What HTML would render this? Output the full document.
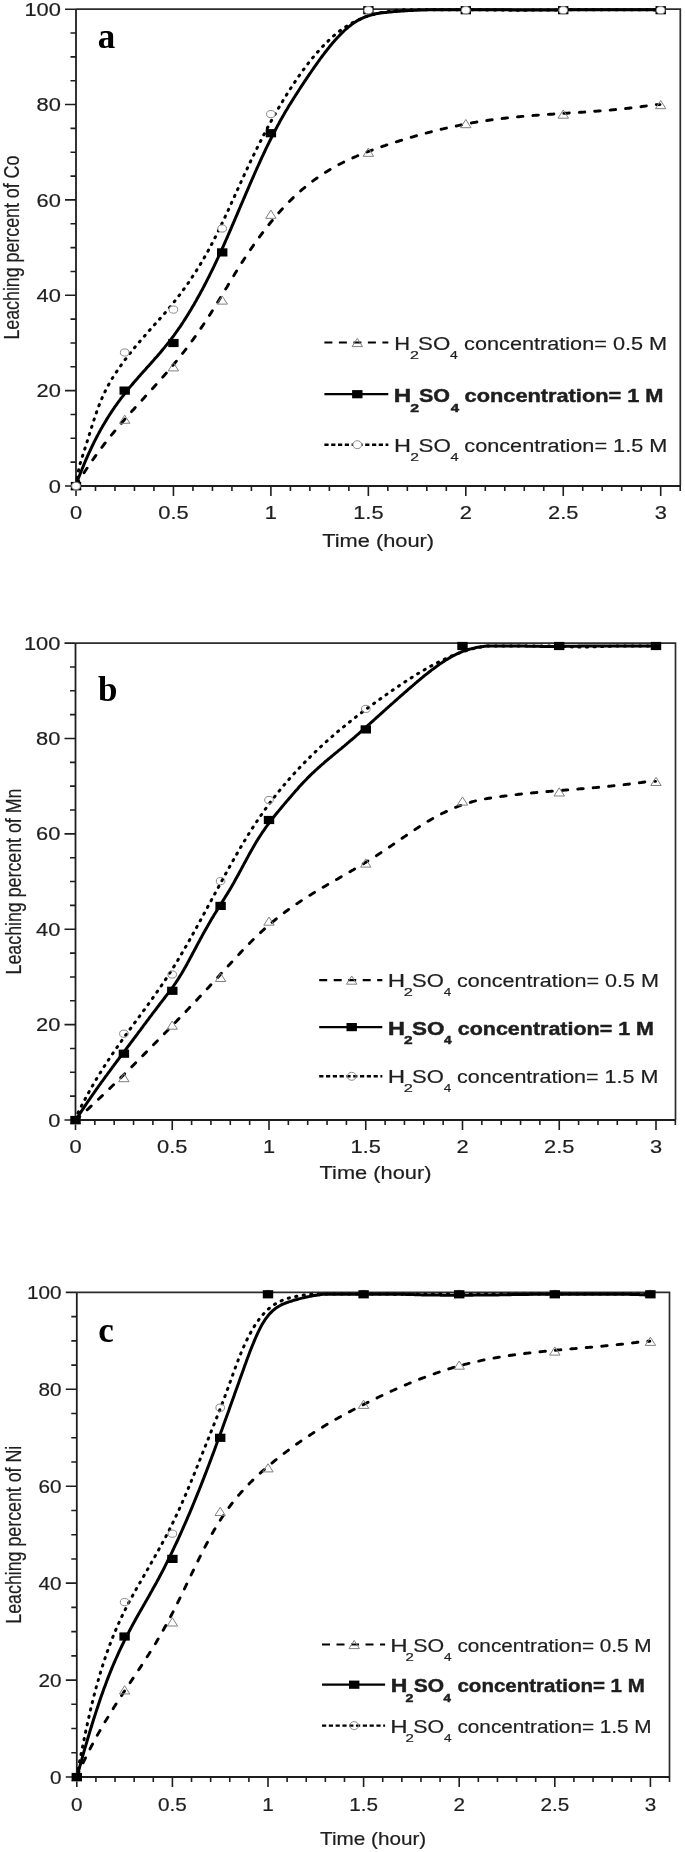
<!DOCTYPE html><html><head><meta charset="utf-8"><style>html,body{margin:0;padding:0;background:#fff;}svg{display:block;filter:blur(0.35px);}</style></head><body>
<svg width="685" height="1852" viewBox="0 0 685 1852">
<rect width="685" height="1852" fill="#fff"/>
<path d="M76.0 9.2 H680.3 V486.0" fill="none" stroke="#2c2c2c" stroke-width="1.7"/>
<path d="M76.0 9.2 V486.0 H680.3" fill="none" stroke="#1e1e1e" stroke-width="1.8"/>
<path d="M65.0 486.00 H76.0 M70.5 462.16 H76.0 M70.5 438.32 H76.0 M70.5 414.48 H76.0 M65.0 390.64 H76.0 M70.5 366.80 H76.0 M70.5 342.96 H76.0 M70.5 319.12 H76.0 M65.0 295.28 H76.0 M70.5 271.44 H76.0 M70.5 247.60 H76.0 M70.5 223.76 H76.0 M65.0 199.92 H76.0 M70.5 176.08 H76.0 M70.5 152.24 H76.0 M70.5 128.40 H76.0 M65.0 104.56 H76.0 M70.5 80.72 H76.0 M70.5 56.88 H76.0 M70.5 33.04 H76.0 M65.0 9.20 H76.0 M76.00 486.0 V496.0 M95.49 486.0 V491.0 M114.98 486.0 V491.0 M134.47 486.0 V491.0 M153.96 486.0 V491.0 M173.45 486.0 V496.0 M192.94 486.0 V491.0 M212.43 486.0 V491.0 M231.92 486.0 V491.0 M251.41 486.0 V491.0 M270.90 486.0 V496.0 M290.39 486.0 V491.0 M309.88 486.0 V491.0 M329.37 486.0 V491.0 M348.86 486.0 V491.0 M368.35 486.0 V496.0 M387.84 486.0 V491.0 M407.33 486.0 V491.0 M426.82 486.0 V491.0 M446.31 486.0 V491.0 M465.80 486.0 V496.0 M485.29 486.0 V491.0 M504.78 486.0 V491.0 M524.27 486.0 V491.0 M543.76 486.0 V491.0 M563.25 486.0 V496.0 M582.74 486.0 V491.0 M602.23 486.0 V491.0 M621.72 486.0 V491.0 M641.21 486.0 V491.0 M660.70 486.0 V496.0 M680.19 486.0 V491.0" fill="none" stroke="#1e1e1e" stroke-width="1.6"/>
<text transform="translate(60.80,492.60) scale(1.18,1)" font-family="Liberation Sans" font-size="18.5" font-weight="normal" text-anchor="end" fill="#1e1e1e" stroke="#1e1e1e" stroke-width="0.2">0</text>
<text transform="translate(60.80,397.24) scale(1.18,1)" font-family="Liberation Sans" font-size="18.5" font-weight="normal" text-anchor="end" fill="#1e1e1e" stroke="#1e1e1e" stroke-width="0.2">20</text>
<text transform="translate(60.80,301.88) scale(1.18,1)" font-family="Liberation Sans" font-size="18.5" font-weight="normal" text-anchor="end" fill="#1e1e1e" stroke="#1e1e1e" stroke-width="0.2">40</text>
<text transform="translate(60.80,206.52) scale(1.18,1)" font-family="Liberation Sans" font-size="18.5" font-weight="normal" text-anchor="end" fill="#1e1e1e" stroke="#1e1e1e" stroke-width="0.2">60</text>
<text transform="translate(60.80,111.16) scale(1.18,1)" font-family="Liberation Sans" font-size="18.5" font-weight="normal" text-anchor="end" fill="#1e1e1e" stroke="#1e1e1e" stroke-width="0.2">80</text>
<text transform="translate(60.80,15.80) scale(1.18,1)" font-family="Liberation Sans" font-size="18.5" font-weight="normal" text-anchor="end" fill="#1e1e1e" stroke="#1e1e1e" stroke-width="0.2">100</text>
<text transform="translate(76.00,519.20) scale(1.18,1)" font-family="Liberation Sans" font-size="18.5" font-weight="normal" text-anchor="middle" fill="#1e1e1e" stroke="#1e1e1e" stroke-width="0.2">0</text>
<text transform="translate(173.45,519.20) scale(1.18,1)" font-family="Liberation Sans" font-size="18.5" font-weight="normal" text-anchor="middle" fill="#1e1e1e" stroke="#1e1e1e" stroke-width="0.2">0.5</text>
<text transform="translate(270.90,519.20) scale(1.18,1)" font-family="Liberation Sans" font-size="18.5" font-weight="normal" text-anchor="middle" fill="#1e1e1e" stroke="#1e1e1e" stroke-width="0.2">1</text>
<text transform="translate(368.35,519.20) scale(1.18,1)" font-family="Liberation Sans" font-size="18.5" font-weight="normal" text-anchor="middle" fill="#1e1e1e" stroke="#1e1e1e" stroke-width="0.2">1.5</text>
<text transform="translate(465.80,519.20) scale(1.18,1)" font-family="Liberation Sans" font-size="18.5" font-weight="normal" text-anchor="middle" fill="#1e1e1e" stroke="#1e1e1e" stroke-width="0.2">2</text>
<text transform="translate(563.25,519.20) scale(1.18,1)" font-family="Liberation Sans" font-size="18.5" font-weight="normal" text-anchor="middle" fill="#1e1e1e" stroke="#1e1e1e" stroke-width="0.2">2.5</text>
<text transform="translate(660.70,519.20) scale(1.18,1)" font-family="Liberation Sans" font-size="18.5" font-weight="normal" text-anchor="middle" fill="#1e1e1e" stroke="#1e1e1e" stroke-width="0.2">3</text>
<text transform="translate(378.15,547.30) scale(1.18,1)" font-family="Liberation Sans" font-size="18.5" font-weight="normal" text-anchor="middle" fill="#1e1e1e" stroke="#1e1e1e" stroke-width="0.2">Time (hour)</text>
<text transform="translate(19.4,247.6) scale(1.19,1) rotate(-90)" font-family="Liberation Sans" font-size="17.8" text-anchor="middle" fill="#1e1e1e" stroke="#1e1e1e" stroke-width="0.2">Leaching percent of Co</text>
<text x="97.8" y="47.8" font-family="Liberation Serif" font-weight="bold" font-size="35" fill="#000">a</text>
<path d="M76.0 486.0 L77.0 484.1 L78.0 482.4 L79.0 480.8 L80.0 479.2 L81.0 477.6 L82.0 476.0 L83.0 474.4 L84.0 472.9 L85.0 471.3 L86.0 469.8 L87.0 468.3 L88.0 466.8 L89.0 465.3 L90.0 463.8 L91.0 462.4 L92.0 460.9 L93.0 459.5 L94.0 458.1 L95.0 456.7 L96.0 455.3 L97.0 453.9 L98.0 452.5 L99.0 451.1 L100.0 449.8 L101.0 448.5 L102.0 447.1 L103.0 445.8 L104.0 444.5 L105.0 443.2 L106.0 441.9 L107.0 440.7 L108.0 439.4 L109.0 438.1 L110.0 436.9 L111.0 435.6 L112.0 434.4 L113.0 433.2 L114.0 432.0 L115.0 430.8 L116.0 429.6 L117.0 428.4 L118.0 427.2 L119.0 426.0 L120.0 424.8 L121.0 423.7 L122.0 422.5 L123.0 421.3 L124.0 420.2 L125.0 419.0 L126.0 417.9 L127.0 416.8 L128.0 415.6 L129.0 414.5 L130.0 413.4 L131.0 412.2 L132.0 411.1 L133.0 410.0 L134.0 408.9 L135.0 407.8 L136.0 406.7 L137.0 405.6 L138.0 404.5 L139.0 403.4 L140.0 402.3 L141.0 401.2 L142.0 400.1 L143.0 399.0 L144.0 397.9 L145.0 396.8 L146.0 395.7 L147.0 394.6 L148.0 393.5 L149.0 392.4 L150.0 391.3 L151.0 390.2 L152.0 389.1 L153.0 388.0 L154.0 386.9 L155.0 385.8 L156.0 384.7 L157.0 383.6 L158.0 382.4 L159.0 381.3 L160.0 380.2 L161.0 379.1 L162.0 377.9 L163.0 376.8 L164.0 375.7 L165.0 374.5 L166.0 373.4 L167.0 372.2 L168.0 371.1 L169.0 369.9 L170.0 368.7 L171.0 367.5 L172.0 366.4 L173.0 365.2 L174.0 364.0 L175.0 362.8 L176.0 361.6 L177.0 360.3 L178.0 359.1 L179.0 357.9 L180.0 356.6 L181.0 355.4 L182.0 354.1 L183.0 352.8 L184.0 351.6 L185.0 350.3 L186.0 349.0 L187.0 347.7 L188.0 346.3 L189.0 345.0 L190.0 343.7 L191.0 342.3 L192.0 340.9 L193.0 339.6 L194.0 338.2 L195.0 336.8 L196.0 335.4 L197.0 333.9 L198.0 332.5 L199.0 331.1 L200.0 329.6 L201.0 328.1 L202.0 326.7 L203.0 325.2 L204.0 323.7 L205.0 322.2 L206.0 320.7 L207.0 319.1 L208.0 317.6 L209.0 316.0 L210.0 314.5 L211.0 312.9 L212.0 311.3 L213.0 309.8 L214.0 308.2 L215.0 306.6 L216.0 305.0 L217.0 303.3 L218.0 301.7 L219.0 300.1 L220.0 298.4 L221.0 296.8 L222.0 295.2 L223.0 293.5 L224.0 291.8 L225.0 290.2 L226.0 288.5 L227.0 286.9 L228.0 285.2 L229.0 283.5 L230.0 281.9 L231.0 280.2 L232.0 278.6 L233.0 276.9 L234.0 275.3 L235.0 273.6 L236.0 272.0 L237.0 270.4 L238.0 268.8 L239.0 267.2 L240.0 265.6 L241.0 264.0 L242.0 262.4 L243.0 260.9 L244.0 259.3 L245.0 257.8 L246.0 256.3 L247.0 254.8 L248.0 253.3 L249.0 251.8 L250.0 250.3 L251.0 248.8 L252.0 247.4 L253.0 246.0 L254.0 244.5 L255.0 243.1 L256.0 241.7 L257.0 240.3 L258.0 238.9 L259.0 237.5 L260.0 236.2 L261.0 234.8 L262.0 233.5 L263.0 232.2 L264.0 230.9 L265.0 229.6 L266.0 228.3 L267.0 227.0 L268.0 225.7 L269.0 224.5 L270.0 223.2 L271.0 222.0 L272.0 220.8 L273.0 219.6 L274.0 218.4 L275.0 217.2 L276.0 216.0 L277.0 214.9 L278.0 213.7 L279.0 212.6 L280.0 211.4 L281.0 210.3 L282.0 209.2 L283.0 208.1 L284.0 207.1 L285.0 206.0 L286.0 204.9 L287.0 203.9 L288.0 202.9 L289.0 201.9 L290.0 200.8 L291.0 199.9 L292.0 198.9 L293.0 197.9 L294.0 196.9 L295.0 196.0 L296.0 195.1 L297.0 194.1 L298.0 193.2 L299.0 192.3 L300.0 191.5 L301.0 190.6 L302.0 189.7 L303.0 188.9 L304.0 188.0 L305.0 187.2 L306.0 186.4 L307.0 185.6 L308.0 184.8 L309.0 184.0 L310.0 183.2 L311.0 182.4 L312.0 181.7 L313.0 180.9 L314.0 180.2 L315.0 179.4 L316.0 178.7 L317.0 178.0 L318.0 177.3 L319.0 176.6 L320.0 175.9 L321.0 175.3 L322.0 174.6 L323.0 173.9 L324.0 173.3 L325.0 172.7 L326.0 172.0 L327.0 171.4 L328.0 170.8 L329.0 170.2 L330.0 169.6 L331.0 169.0 L332.0 168.4 L333.0 167.8 L334.0 167.3 L335.0 166.7 L336.0 166.2 L337.0 165.6 L338.0 165.1 L339.0 164.5 L340.0 164.0 L341.0 163.5 L342.0 163.0 L343.0 162.5 L344.0 162.0 L345.0 161.5 L346.0 161.0 L347.0 160.5 L348.0 160.1 L349.0 159.6 L350.0 159.1 L351.0 158.7 L352.0 158.2 L353.0 157.8 L354.0 157.3 L355.0 156.9 L356.0 156.5 L357.0 156.0 L358.0 155.6 L359.0 155.2 L360.0 154.8 L361.0 154.4 L362.0 154.0 L363.0 153.6 L364.0 153.2 L365.0 152.8 L366.0 152.4 L367.0 152.0 L368.0 151.6 L369.0 151.2 L370.0 150.9 L371.0 150.5 L372.0 150.1 L373.0 149.8 L374.0 149.4 L375.0 149.0 L376.0 148.7 L377.0 148.3 L378.0 148.0 L379.0 147.6 L380.0 147.3 L381.0 146.9 L382.0 146.6 L383.0 146.2 L384.0 145.9 L385.0 145.6 L386.0 145.2 L387.0 144.9 L388.0 144.6 L389.0 144.2 L390.0 143.9 L391.0 143.6 L392.0 143.2 L393.0 142.9 L394.0 142.6 L395.0 142.3 L396.0 141.9 L397.0 141.6 L398.0 141.3 L399.0 141.0 L400.0 140.7 L401.0 140.4 L402.0 140.1 L403.0 139.8 L404.0 139.4 L405.0 139.1 L406.0 138.8 L407.0 138.5 L408.0 138.2 L409.0 137.9 L410.0 137.6 L411.0 137.3 L412.0 137.1 L413.0 136.8 L414.0 136.5 L415.0 136.2 L416.0 135.9 L417.0 135.6 L418.0 135.3 L419.0 135.0 L420.0 134.8 L421.0 134.5 L422.0 134.2 L423.0 133.9 L424.0 133.7 L425.0 133.4 L426.0 133.1 L427.0 132.9 L428.0 132.6 L429.0 132.3 L430.0 132.1 L431.0 131.8 L432.0 131.6 L433.0 131.3 L434.0 131.1 L435.0 130.8 L436.0 130.6 L437.0 130.3 L438.0 130.1 L439.0 129.8 L440.0 129.6 L441.0 129.3 L442.0 129.1 L443.0 128.9 L444.0 128.6 L445.0 128.4 L446.0 128.2 L447.0 127.9 L448.0 127.7 L449.0 127.5 L450.0 127.3 L451.0 127.0 L452.0 126.8 L453.0 126.6 L454.0 126.4 L455.0 126.2 L456.0 126.0 L457.0 125.8 L458.0 125.6 L459.0 125.4 L460.0 125.2 L461.0 125.0 L462.0 124.8 L463.0 124.6 L464.0 124.4 L465.0 124.2 L466.0 124.0 L467.0 123.8 L468.0 123.6 L469.0 123.4 L470.0 123.2 L471.0 123.1 L472.0 122.9 L473.0 122.7 L474.0 122.5 L475.0 122.4 L476.0 122.2 L477.0 122.0 L478.0 121.9 L479.0 121.7 L480.0 121.5 L481.0 121.4 L482.0 121.2 L483.0 121.1 L484.0 120.9 L485.0 120.8 L486.0 120.6 L487.0 120.5 L488.0 120.3 L489.0 120.2 L490.0 120.0 L491.0 119.9 L492.0 119.8 L493.0 119.6 L494.0 119.5 L495.0 119.4 L496.0 119.2 L497.0 119.1 L498.0 119.0 L499.0 118.9 L500.0 118.7 L501.0 118.6 L502.0 118.5 L503.0 118.4 L504.0 118.3 L505.0 118.2 L506.0 118.0 L507.0 117.9 L508.0 117.8 L509.0 117.7 L510.0 117.6 L511.0 117.5 L512.0 117.4 L513.0 117.3 L514.0 117.2 L515.0 117.1 L516.0 117.0 L517.0 116.9 L518.0 116.8 L519.0 116.7 L520.0 116.6 L521.0 116.5 L522.0 116.4 L523.0 116.4 L524.0 116.3 L525.0 116.2 L526.0 116.1 L527.0 116.0 L528.0 115.9 L529.0 115.8 L530.0 115.8 L531.0 115.7 L532.0 115.6 L533.0 115.5 L534.0 115.4 L535.0 115.4 L536.0 115.3 L537.0 115.2 L538.0 115.1 L539.0 115.1 L540.0 115.0 L541.0 114.9 L542.0 114.8 L543.0 114.8 L544.0 114.7 L545.0 114.6 L546.0 114.6 L547.0 114.5 L548.0 114.4 L549.0 114.4 L550.0 114.3 L551.0 114.2 L552.0 114.2 L553.0 114.1 L554.0 114.0 L555.0 114.0 L556.0 113.9 L557.0 113.8 L558.0 113.8 L559.0 113.7 L560.0 113.6 L561.0 113.6 L562.0 113.5 L563.0 113.4 L564.0 113.4 L565.0 113.3 L566.0 113.2 L567.0 113.2 L568.0 113.1 L569.0 113.0 L570.0 113.0 L571.0 112.9 L572.0 112.9 L573.0 112.8 L574.0 112.7 L575.0 112.7 L576.0 112.6 L577.0 112.5 L578.0 112.5 L579.0 112.4 L580.0 112.3 L581.0 112.3 L582.0 112.2 L583.0 112.1 L584.0 112.1 L585.0 112.0 L586.0 111.9 L587.0 111.9 L588.0 111.8 L589.0 111.7 L590.0 111.6 L591.0 111.6 L592.0 111.5 L593.0 111.4 L594.0 111.3 L595.0 111.3 L596.0 111.2 L597.0 111.1 L598.0 111.0 L599.0 111.0 L600.0 110.9 L601.0 110.8 L602.0 110.7 L603.0 110.7 L604.0 110.6 L605.0 110.5 L606.0 110.4 L607.0 110.3 L608.0 110.2 L609.0 110.1 L610.0 110.1 L611.0 110.0 L612.0 109.9 L613.0 109.8 L614.0 109.7 L615.0 109.6 L616.0 109.5 L617.0 109.4 L618.0 109.3 L619.0 109.2 L620.0 109.1 L621.0 109.0 L622.0 108.9 L623.0 108.8 L624.0 108.7 L625.0 108.6 L626.0 108.5 L627.0 108.4 L628.0 108.3 L629.0 108.2 L630.0 108.0 L631.0 107.9 L632.0 107.8 L633.0 107.7 L634.0 107.6 L635.0 107.4 L636.0 107.3 L637.0 107.2 L638.0 107.1 L639.0 106.9 L640.0 106.8 L641.0 106.7 L642.0 106.5 L643.0 106.4 L644.0 106.2 L645.0 106.1 L646.0 106.0 L647.0 105.8 L648.0 105.7 L649.0 105.5 L650.0 105.4 L651.0 105.2 L652.0 105.1 L653.0 104.9 L654.0 104.7 L655.0 104.6 L656.0 104.6 L657.0 104.6 L658.0 104.6 L659.0 104.6 L660.0 104.6" fill="none" stroke="#000" stroke-width="2.9" stroke-linecap="round" stroke-dasharray="5.5 10.0"/>
<path d="M76.0 486.0 L77.0 482.1 L78.0 479.4 L79.0 476.8 L80.0 474.2 L81.0 471.7 L82.0 469.2 L83.0 466.8 L84.0 464.4 L85.0 462.0 L86.0 459.7 L87.0 457.4 L88.0 455.1 L89.0 452.9 L90.0 450.8 L91.0 448.6 L92.0 446.5 L93.0 444.5 L94.0 442.4 L95.0 440.4 L96.0 438.5 L97.0 436.5 L98.0 434.6 L99.0 432.8 L100.0 430.9 L101.0 429.1 L102.0 427.4 L103.0 425.6 L104.0 423.9 L105.0 422.2 L106.0 420.6 L107.0 418.9 L108.0 417.3 L109.0 415.7 L110.0 414.2 L111.0 412.6 L112.0 411.1 L113.0 409.6 L114.0 408.2 L115.0 406.7 L116.0 405.3 L117.0 403.9 L118.0 402.5 L119.0 401.1 L120.0 399.8 L121.0 398.4 L122.0 397.1 L123.0 395.8 L124.0 394.5 L125.0 393.2 L126.0 392.0 L127.0 390.7 L128.0 389.5 L129.0 388.3 L130.0 387.1 L131.0 385.9 L132.0 384.7 L133.0 383.5 L134.0 382.3 L135.0 381.2 L136.0 380.0 L137.0 378.9 L138.0 377.7 L139.0 376.6 L140.0 375.5 L141.0 374.3 L142.0 373.2 L143.0 372.1 L144.0 371.0 L145.0 369.9 L146.0 368.8 L147.0 367.6 L148.0 366.5 L149.0 365.4 L150.0 364.3 L151.0 363.2 L152.0 362.0 L153.0 360.9 L154.0 359.8 L155.0 358.6 L156.0 357.5 L157.0 356.4 L158.0 355.2 L159.0 354.0 L160.0 352.9 L161.0 351.7 L162.0 350.5 L163.0 349.3 L164.0 348.1 L165.0 346.9 L166.0 345.6 L167.0 344.4 L168.0 343.1 L169.0 341.9 L170.0 340.6 L171.0 339.3 L172.0 337.9 L173.0 336.6 L174.0 335.3 L175.0 333.9 L176.0 332.5 L177.0 331.1 L178.0 329.7 L179.0 328.2 L180.0 326.8 L181.0 325.3 L182.0 323.8 L183.0 322.3 L184.0 320.7 L185.0 319.2 L186.0 317.6 L187.0 316.0 L188.0 314.4 L189.0 312.8 L190.0 311.1 L191.0 309.5 L192.0 307.8 L193.0 306.1 L194.0 304.4 L195.0 302.6 L196.0 300.9 L197.0 299.1 L198.0 297.3 L199.0 295.5 L200.0 293.7 L201.0 291.8 L202.0 290.0 L203.0 288.1 L204.0 286.2 L205.0 284.3 L206.0 282.4 L207.0 280.4 L208.0 278.4 L209.0 276.5 L210.0 274.4 L211.0 272.4 L212.0 270.4 L213.0 268.3 L214.0 266.3 L215.0 264.2 L216.0 262.1 L217.0 259.9 L218.0 257.8 L219.0 255.6 L220.0 253.4 L221.0 251.2 L222.0 249.0 L223.0 246.8 L224.0 244.6 L225.0 242.3 L226.0 240.0 L227.0 237.8 L228.0 235.5 L229.0 233.2 L230.0 230.9 L231.0 228.6 L232.0 226.2 L233.0 223.9 L234.0 221.6 L235.0 219.2 L236.0 216.9 L237.0 214.6 L238.0 212.2 L239.0 209.9 L240.0 207.5 L241.0 205.2 L242.0 202.8 L243.0 200.5 L244.0 198.1 L245.0 195.8 L246.0 193.4 L247.0 191.1 L248.0 188.8 L249.0 186.5 L250.0 184.1 L251.0 181.8 L252.0 179.5 L253.0 177.3 L254.0 175.0 L255.0 172.7 L256.0 170.5 L257.0 168.2 L258.0 166.0 L259.0 163.8 L260.0 161.6 L261.0 159.4 L262.0 157.2 L263.0 155.1 L264.0 153.0 L265.0 150.8 L266.0 148.7 L267.0 146.7 L268.0 144.6 L269.0 142.6 L270.0 140.5 L271.0 138.5 L272.0 136.5 L273.0 134.6 L274.0 132.6 L275.0 130.7 L276.0 128.8 L277.0 126.9 L278.0 125.0 L279.0 123.2 L280.0 121.3 L281.0 119.5 L282.0 117.8 L283.0 116.0 L284.0 114.3 L285.0 112.5 L286.0 110.8 L287.0 109.2 L288.0 107.5 L289.0 105.8 L290.0 104.2 L291.0 102.6 L292.0 101.0 L293.0 99.4 L294.0 97.8 L295.0 96.2 L296.0 94.7 L297.0 93.1 L298.0 91.6 L299.0 90.0 L300.0 88.5 L301.0 86.9 L302.0 85.4 L303.0 83.9 L304.0 82.4 L305.0 80.9 L306.0 79.4 L307.0 77.9 L308.0 76.4 L309.0 74.9 L310.0 73.4 L311.0 72.0 L312.0 70.5 L313.0 69.1 L314.0 67.6 L315.0 66.2 L316.0 64.8 L317.0 63.4 L318.0 62.0 L319.0 60.6 L320.0 59.2 L321.0 57.9 L322.0 56.5 L323.0 55.2 L324.0 53.9 L325.0 52.5 L326.0 51.3 L327.0 50.0 L328.0 48.7 L329.0 47.5 L330.0 46.2 L331.0 45.0 L332.0 43.8 L333.0 42.6 L334.0 41.5 L335.0 40.3 L336.0 39.2 L337.0 38.1 L338.0 37.0 L339.0 36.0 L340.0 34.9 L341.0 33.9 L342.0 32.9 L343.0 31.9 L344.0 31.0 L345.0 30.0 L346.0 29.1 L347.0 28.3 L348.0 27.4 L349.0 26.6 L350.0 25.8 L351.0 25.0 L352.0 24.2 L353.0 23.5 L354.0 22.8 L355.0 22.2 L356.0 21.5 L357.0 20.9 L358.0 20.3 L359.0 19.8 L360.0 19.3 L361.0 18.8 L362.0 18.3 L363.0 17.8 L364.0 17.4 L365.0 17.0 L366.0 16.6 L367.0 16.3 L368.0 15.9 L369.0 15.6 L370.0 15.3 L371.0 15.0 L372.0 14.8 L373.0 14.5 L374.0 14.3 L375.0 14.0 L376.0 13.8 L377.0 13.6 L378.0 13.5 L379.0 13.3 L380.0 13.1 L381.0 13.0 L382.0 12.8 L383.0 12.7 L384.0 12.6 L385.0 12.5 L386.0 12.4 L387.0 12.3 L388.0 12.2 L389.0 12.1 L390.0 12.0 L391.0 11.9 L392.0 11.8 L393.0 11.7 L394.0 11.6 L395.0 11.5 L396.0 11.5 L397.0 11.4 L398.0 11.3 L399.0 11.2 L400.0 11.2 L401.0 11.1 L402.0 11.0 L403.0 10.9 L404.0 10.9 L405.0 10.8 L406.0 10.8 L407.0 10.7 L408.0 10.6 L409.0 10.6 L410.0 10.5 L411.0 10.5 L412.0 10.4 L413.0 10.4 L414.0 10.3 L415.0 10.3 L416.0 10.2 L417.0 10.2 L418.0 10.1 L419.0 10.1 L420.0 10.0 L421.0 10.0 L422.0 10.0 L423.0 9.9 L424.0 9.9 L425.0 9.9 L426.0 9.8 L427.0 9.8 L428.0 9.8 L429.0 9.7 L430.0 9.7 L431.0 9.7 L432.0 9.7 L433.0 9.7 L434.0 9.7 L435.0 9.7 L436.0 9.7 L437.0 9.7 L438.0 9.7 L439.0 9.7 L440.0 9.7 L441.0 9.7 L442.0 9.7 L443.0 9.7 L444.0 9.7 L445.0 9.7 L446.0 9.7 L447.0 9.7 L448.0 9.7 L449.0 9.7 L450.0 9.7 L451.0 9.7 L452.0 9.7 L453.0 9.7 L454.0 9.7 L455.0 9.7 L456.0 9.7 L457.0 9.7 L458.0 9.7 L459.0 9.7 L460.0 9.7 L461.0 9.7 L462.0 9.7 L463.0 9.7 L464.0 9.7 L465.0 9.7 L466.0 9.7 L467.0 9.7 L468.0 9.7 L469.0 9.7 L470.0 9.7 L471.0 9.7 L472.0 9.7 L473.0 9.7 L474.0 9.7 L475.0 9.7 L476.0 9.7 L477.0 9.7 L478.0 9.7 L479.0 9.7 L480.0 9.7 L481.0 9.7 L482.0 9.7 L483.0 9.7 L484.0 9.7 L485.0 9.7 L486.0 9.7 L487.0 9.7 L488.0 9.7 L489.0 9.7 L490.0 9.7 L491.0 9.7 L492.0 9.7 L493.0 9.7 L494.0 9.7 L495.0 9.7 L496.0 9.7 L497.0 9.7 L498.0 9.7 L499.0 9.7 L500.0 9.7 L501.0 9.7 L502.0 9.7 L503.0 9.8 L504.0 9.8 L505.0 9.8 L506.0 9.8 L507.0 9.8 L508.0 9.8 L509.0 9.8 L510.0 9.8 L511.0 9.8 L512.0 9.9 L513.0 9.9 L514.0 9.9 L515.0 9.9 L516.0 9.9 L517.0 9.9 L518.0 9.9 L519.0 9.9 L520.0 9.9 L521.0 9.9 L522.0 9.9 L523.0 9.9 L524.0 10.0 L525.0 10.0 L526.0 10.0 L527.0 10.0 L528.0 10.0 L529.0 10.0 L530.0 10.0 L531.0 10.0 L532.0 10.0 L533.0 10.0 L534.0 10.0 L535.0 10.0 L536.0 10.0 L537.0 10.0 L538.0 10.0 L539.0 10.0 L540.0 10.0 L541.0 10.0 L542.0 10.0 L543.0 10.0 L544.0 10.0 L545.0 10.0 L546.0 10.0 L547.0 10.0 L548.0 10.0 L549.0 10.0 L550.0 9.9 L551.0 9.9 L552.0 9.9 L553.0 9.9 L554.0 9.9 L555.0 9.9 L556.0 9.9 L557.0 9.9 L558.0 9.9 L559.0 9.9 L560.0 9.9 L561.0 9.9 L562.0 9.9 L563.0 9.9 L564.0 9.9 L565.0 9.8 L566.0 9.8 L567.0 9.8 L568.0 9.8 L569.0 9.8 L570.0 9.8 L571.0 9.8 L572.0 9.8 L573.0 9.8 L574.0 9.8 L575.0 9.8 L576.0 9.8 L577.0 9.7 L578.0 9.7 L579.0 9.7 L580.0 9.7 L581.0 9.7 L582.0 9.7 L583.0 9.7 L584.0 9.7 L585.0 9.7 L586.0 9.7 L587.0 9.7 L588.0 9.7 L589.0 9.7 L590.0 9.7 L591.0 9.7 L592.0 9.7 L593.0 9.7 L594.0 9.7 L595.0 9.7 L596.0 9.7 L597.0 9.7 L598.0 9.7 L599.0 9.7 L600.0 9.7 L601.0 9.7 L602.0 9.7 L603.0 9.7 L604.0 9.7 L605.0 9.7 L606.0 9.7 L607.0 9.7 L608.0 9.7 L609.0 9.7 L610.0 9.7 L611.0 9.7 L612.0 9.7 L613.0 9.7 L614.0 9.7 L615.0 9.7 L616.0 9.7 L617.0 9.7 L618.0 9.7 L619.0 9.7 L620.0 9.7 L621.0 9.7 L622.0 9.7 L623.0 9.7 L624.0 9.7 L625.0 9.7 L626.0 9.7 L627.0 9.7 L628.0 9.7 L629.0 9.7 L630.0 9.7 L631.0 9.7 L632.0 9.7 L633.0 9.7 L634.0 9.7 L635.0 9.7 L636.0 9.7 L637.0 9.7 L638.0 9.7 L639.0 9.7 L640.0 9.7 L641.0 9.7 L642.0 9.7 L643.0 9.7 L644.0 9.7 L645.0 9.7 L646.0 9.7 L647.0 9.7 L648.0 9.7 L649.0 9.7 L650.0 9.7 L651.0 9.7 L652.0 9.7 L653.0 9.7 L654.0 9.7 L655.0 9.7 L656.0 9.8 L657.0 9.8 L658.0 9.8 L659.0 9.8 L660.0 9.8" fill="none" stroke="#000" stroke-width="3.0"/>
<path d="M76.0 486.0 L77.0 478.8 L78.0 473.0 L79.0 468.3 L80.0 464.2 L81.0 460.7 L82.0 457.6 L83.0 454.5 L84.0 451.5 L85.0 448.3 L86.0 445.2 L87.0 442.0 L88.0 438.8 L89.0 435.6 L90.0 432.4 L91.0 429.2 L92.0 426.0 L93.0 422.8 L94.0 419.8 L95.0 416.7 L96.0 413.8 L97.0 410.9 L98.0 408.2 L99.0 405.5 L100.0 403.0 L101.0 400.5 L102.0 398.2 L103.0 395.9 L104.0 393.7 L105.0 391.6 L106.0 389.6 L107.0 387.7 L108.0 385.8 L109.0 384.0 L110.0 382.2 L111.0 380.5 L112.0 378.8 L113.0 377.2 L114.0 375.6 L115.0 374.1 L116.0 372.6 L117.0 371.1 L118.0 369.6 L119.0 368.1 L120.0 366.7 L121.0 365.3 L122.0 363.9 L123.0 362.5 L124.0 361.2 L125.0 359.8 L126.0 358.5 L127.0 357.2 L128.0 355.9 L129.0 354.6 L130.0 353.3 L131.0 352.1 L132.0 350.8 L133.0 349.6 L134.0 348.4 L135.0 347.1 L136.0 345.9 L137.0 344.7 L138.0 343.6 L139.0 342.4 L140.0 341.2 L141.0 340.1 L142.0 338.9 L143.0 337.7 L144.0 336.6 L145.0 335.5 L146.0 334.3 L147.0 333.2 L148.0 332.1 L149.0 330.9 L150.0 329.8 L151.0 328.7 L152.0 327.6 L153.0 326.5 L154.0 325.3 L155.0 324.2 L156.0 323.1 L157.0 322.0 L158.0 320.9 L159.0 319.7 L160.0 318.6 L161.0 317.5 L162.0 316.3 L163.0 315.2 L164.0 314.0 L165.0 312.9 L166.0 311.7 L167.0 310.5 L168.0 309.3 L169.0 308.1 L170.0 307.0 L171.0 305.7 L172.0 304.5 L173.0 303.3 L174.0 302.1 L175.0 300.8 L176.0 299.5 L177.0 298.3 L178.0 297.0 L179.0 295.7 L180.0 294.4 L181.0 293.0 L182.0 291.7 L183.0 290.3 L184.0 289.0 L185.0 287.6 L186.0 286.2 L187.0 284.8 L188.0 283.3 L189.0 281.9 L190.0 280.4 L191.0 278.9 L192.0 277.4 L193.0 275.9 L194.0 274.4 L195.0 272.9 L196.0 271.3 L197.0 269.7 L198.0 268.1 L199.0 266.5 L200.0 264.8 L201.0 263.2 L202.0 261.5 L203.0 259.8 L204.0 258.1 L205.0 256.3 L206.0 254.6 L207.0 252.8 L208.0 251.0 L209.0 249.2 L210.0 247.3 L211.0 245.4 L212.0 243.6 L213.0 241.6 L214.0 239.7 L215.0 237.7 L216.0 235.8 L217.0 233.7 L218.0 231.7 L219.0 229.7 L220.0 227.6 L221.0 225.5 L222.0 223.4 L223.0 221.3 L224.0 219.2 L225.0 217.1 L226.0 214.9 L227.0 212.7 L228.0 210.6 L229.0 208.4 L230.0 206.2 L231.0 204.0 L232.0 201.8 L233.0 199.6 L234.0 197.4 L235.0 195.2 L236.0 193.0 L237.0 190.8 L238.0 188.6 L239.0 186.4 L240.0 184.2 L241.0 182.0 L242.0 179.8 L243.0 177.6 L244.0 175.4 L245.0 173.3 L246.0 171.1 L247.0 169.0 L248.0 166.8 L249.0 164.7 L250.0 162.6 L251.0 160.5 L252.0 158.4 L253.0 156.3 L254.0 154.3 L255.0 152.2 L256.0 150.2 L257.0 148.2 L258.0 146.2 L259.0 144.2 L260.0 142.2 L261.0 140.3 L262.0 138.3 L263.0 136.4 L264.0 134.5 L265.0 132.6 L266.0 130.7 L267.0 128.8 L268.0 126.9 L269.0 125.1 L270.0 123.3 L271.0 121.4 L272.0 119.6 L273.0 117.8 L274.0 116.0 L275.0 114.3 L276.0 112.5 L277.0 110.8 L278.0 109.0 L279.0 107.3 L280.0 105.6 L281.0 103.9 L282.0 102.3 L283.0 100.6 L284.0 99.0 L285.0 97.3 L286.0 95.7 L287.0 94.1 L288.0 92.5 L289.0 90.9 L290.0 89.4 L291.0 87.8 L292.0 86.3 L293.0 84.8 L294.0 83.3 L295.0 81.8 L296.0 80.3 L297.0 78.8 L298.0 77.4 L299.0 75.9 L300.0 74.5 L301.0 73.1 L302.0 71.7 L303.0 70.3 L304.0 69.0 L305.0 67.6 L306.0 66.3 L307.0 65.0 L308.0 63.7 L309.0 62.4 L310.0 61.2 L311.0 59.9 L312.0 58.7 L313.0 57.4 L314.0 56.2 L315.0 55.1 L316.0 53.9 L317.0 52.7 L318.0 51.6 L319.0 50.5 L320.0 49.4 L321.0 48.3 L322.0 47.2 L323.0 46.1 L324.0 45.1 L325.0 44.1 L326.0 43.1 L327.0 42.1 L328.0 41.1 L329.0 40.1 L330.0 39.2 L331.0 38.3 L332.0 37.4 L333.0 36.5 L334.0 35.6 L335.0 34.8 L336.0 33.9 L337.0 33.1 L338.0 32.3 L339.0 31.5 L340.0 30.8 L341.0 30.0 L342.0 29.3 L343.0 28.6 L344.0 27.9 L345.0 27.2 L346.0 26.6 L347.0 25.9 L348.0 25.3 L349.0 24.7 L350.0 24.1 L351.0 23.5 L352.0 23.0 L353.0 22.5 L354.0 21.9 L355.0 21.4 L356.0 20.9 L357.0 20.4 L358.0 20.0 L359.0 19.5 L360.0 19.1 L361.0 18.7 L362.0 18.3 L363.0 17.9 L364.0 17.5 L365.0 17.1 L366.0 16.7 L367.0 16.4 L368.0 16.1 L369.0 15.7 L370.0 15.4 L371.0 15.1 L372.0 14.8 L373.0 14.5 L374.0 14.3 L375.0 14.0 L376.0 13.8 L377.0 13.5 L378.0 13.3 L379.0 13.1 L380.0 12.8 L381.0 12.6 L382.0 12.4 L383.0 12.2 L384.0 12.1 L385.0 11.9 L386.0 11.7 L387.0 11.5 L388.0 11.4 L389.0 11.2 L390.0 11.1 L391.0 11.0 L392.0 10.8 L393.0 10.7 L394.0 10.6 L395.0 10.5 L396.0 10.3 L397.0 10.2 L398.0 10.1 L399.0 10.0 L400.0 9.9 L401.0 9.8 L402.0 9.8 L403.0 9.7 L404.0 9.7 L405.0 9.7 L406.0 9.7 L407.0 9.7 L408.0 9.7 L409.0 9.7 L410.0 9.7 L411.0 9.7 L412.0 9.7 L413.0 9.7 L414.0 9.7 L415.0 9.7 L416.0 9.7 L417.0 9.7 L418.0 9.7 L419.0 9.7 L420.0 9.7 L421.0 9.7 L422.0 9.7 L423.0 9.7 L424.0 9.7 L425.0 9.7 L426.0 9.7 L427.0 9.7 L428.0 9.7 L429.0 9.7 L430.0 9.7 L431.0 9.7 L432.0 9.7 L433.0 9.7 L434.0 9.7 L435.0 9.7 L436.0 9.7 L437.0 9.7 L438.0 9.7 L439.0 9.7 L440.0 9.7 L441.0 9.7 L442.0 9.7 L443.0 9.7 L444.0 9.7 L445.0 9.7 L446.0 9.7 L447.0 9.7 L448.0 9.7 L449.0 9.7 L450.0 9.7 L451.0 9.7 L452.0 9.7 L453.0 9.7 L454.0 9.7 L455.0 9.7 L456.0 9.7 L457.0 9.7 L458.0 9.7 L459.0 9.7 L460.0 9.7 L461.0 9.7 L462.0 9.7 L463.0 9.7 L464.0 9.7 L465.0 9.7 L466.0 9.7 L467.0 9.7 L468.0 9.7 L469.0 9.7 L470.0 9.7 L471.0 9.7 L472.0 9.7 L473.0 9.7 L474.0 9.7 L475.0 9.7 L476.0 9.7 L477.0 9.7 L478.0 9.7 L479.0 9.7 L480.0 9.7 L481.0 9.8 L482.0 9.8 L483.0 9.8 L484.0 9.8 L485.0 9.9 L486.0 9.9 L487.0 9.9 L488.0 9.9 L489.0 10.0 L490.0 10.0 L491.0 10.0 L492.0 10.0 L493.0 10.0 L494.0 10.0 L495.0 10.1 L496.0 10.1 L497.0 10.1 L498.0 10.1 L499.0 10.1 L500.0 10.1 L501.0 10.1 L502.0 10.1 L503.0 10.1 L504.0 10.2 L505.0 10.2 L506.0 10.2 L507.0 10.2 L508.0 10.2 L509.0 10.2 L510.0 10.2 L511.0 10.2 L512.0 10.2 L513.0 10.2 L514.0 10.2 L515.0 10.2 L516.0 10.2 L517.0 10.2 L518.0 10.2 L519.0 10.2 L520.0 10.2 L521.0 10.2 L522.0 10.2 L523.0 10.2 L524.0 10.2 L525.0 10.2 L526.0 10.2 L527.0 10.2 L528.0 10.2 L529.0 10.2 L530.0 10.2 L531.0 10.1 L532.0 10.1 L533.0 10.1 L534.0 10.1 L535.0 10.1 L536.0 10.1 L537.0 10.1 L538.0 10.1 L539.0 10.1 L540.0 10.1 L541.0 10.1 L542.0 10.1 L543.0 10.0 L544.0 10.0 L545.0 10.0 L546.0 10.0 L547.0 10.0 L548.0 10.0 L549.0 10.0 L550.0 10.0 L551.0 9.9 L552.0 9.9 L553.0 9.9 L554.0 9.9 L555.0 9.9 L556.0 9.9 L557.0 9.9 L558.0 9.9 L559.0 9.8 L560.0 9.8 L561.0 9.8 L562.0 9.8 L563.0 9.8 L564.0 9.8 L565.0 9.8 L566.0 9.7 L567.0 9.7 L568.0 9.7 L569.0 9.7 L570.0 9.7 L571.0 9.7 L572.0 9.7 L573.0 9.7 L574.0 9.7 L575.0 9.7 L576.0 9.7 L577.0 9.7 L578.0 9.7 L579.0 9.7 L580.0 9.7 L581.0 9.7 L582.0 9.7 L583.0 9.7 L584.0 9.7 L585.0 9.7 L586.0 9.7 L587.0 9.7 L588.0 9.7 L589.0 9.7 L590.0 9.7 L591.0 9.7 L592.0 9.7 L593.0 9.7 L594.0 9.7 L595.0 9.7 L596.0 9.7 L597.0 9.7 L598.0 9.7 L599.0 9.7 L600.0 9.7 L601.0 9.7 L602.0 9.7 L603.0 9.7 L604.0 9.7 L605.0 9.7 L606.0 9.7 L607.0 9.7 L608.0 9.7 L609.0 9.7 L610.0 9.7 L611.0 9.7 L612.0 9.7 L613.0 9.7 L614.0 9.7 L615.0 9.7 L616.0 9.7 L617.0 9.7 L618.0 9.7 L619.0 9.7 L620.0 9.7 L621.0 9.7 L622.0 9.7 L623.0 9.7 L624.0 9.7 L625.0 9.7 L626.0 9.7 L627.0 9.7 L628.0 9.7 L629.0 9.7 L630.0 9.7 L631.0 9.7 L632.0 9.7 L633.0 9.7 L634.0 9.7 L635.0 9.7 L636.0 9.7 L637.0 9.7 L638.0 9.7 L639.0 9.7 L640.0 9.7 L641.0 9.7 L642.0 9.7 L643.0 9.7 L644.0 9.7 L645.0 9.7 L646.0 9.7 L647.0 9.7 L648.0 9.7 L649.0 9.7 L650.0 9.7 L651.0 9.8 L652.0 9.8 L653.0 9.8 L654.0 9.9 L655.0 9.9 L656.0 9.9 L657.0 10.0 L658.0 10.0 L659.0 10.0 L660.0 10.1" fill="none" stroke="#000" stroke-width="3.0" stroke-linecap="round" stroke-dasharray="1.2 6.4"/>
<path d="M70.8 490.1 L76.0 481.9 L81.2 490.1 Z" fill="none" stroke="#808080" stroke-width="1"/>
<path d="M119.5 423.3 L124.7 415.1 L129.9 423.3 Z" fill="none" stroke="#808080" stroke-width="1"/>
<path d="M168.2 370.9 L173.4 362.7 L178.6 370.9 Z" fill="none" stroke="#808080" stroke-width="1"/>
<path d="M217.0 304.1 L222.2 295.9 L227.4 304.1 Z" fill="none" stroke="#808080" stroke-width="1"/>
<path d="M265.7 218.3 L270.9 210.1 L276.1 218.3 Z" fill="none" stroke="#808080" stroke-width="1"/>
<path d="M363.2 156.3 L368.4 148.1 L373.6 156.3 Z" fill="none" stroke="#808080" stroke-width="1"/>
<path d="M460.6 127.7 L465.8 119.5 L471.0 127.7 Z" fill="none" stroke="#808080" stroke-width="1"/>
<path d="M558.0 118.2 L563.2 110.0 L568.5 118.2 Z" fill="none" stroke="#808080" stroke-width="1"/>
<path d="M655.5 108.7 L660.7 100.5 L665.9 108.7 Z" fill="none" stroke="#808080" stroke-width="1"/>
<rect x="70.8" y="481.9" width="10.4" height="8.2" fill="#000"/>
<rect x="119.5" y="386.5" width="10.4" height="8.2" fill="#000"/>
<rect x="168.2" y="338.9" width="10.4" height="8.2" fill="#000"/>
<rect x="217.0" y="248.3" width="10.4" height="8.2" fill="#000"/>
<rect x="265.7" y="129.1" width="10.4" height="8.2" fill="#000"/>
<rect x="363.2" y="6.1" width="10.4" height="8.2" fill="#000"/>
<rect x="460.6" y="6.1" width="10.4" height="8.2" fill="#000"/>
<rect x="558.0" y="6.1" width="10.4" height="8.2" fill="#000"/>
<rect x="655.5" y="6.1" width="10.4" height="8.2" fill="#000"/>
<ellipse cx="76.0" cy="486.0" rx="4.3" ry="3.6" fill="white" stroke="#8a8a8a" stroke-width="1"/>
<ellipse cx="124.7" cy="352.5" rx="4.3" ry="3.6" fill="white" stroke="#8a8a8a" stroke-width="1"/>
<ellipse cx="173.4" cy="309.6" rx="4.3" ry="3.6" fill="white" stroke="#8a8a8a" stroke-width="1"/>
<ellipse cx="222.2" cy="228.5" rx="4.3" ry="3.6" fill="white" stroke="#8a8a8a" stroke-width="1"/>
<ellipse cx="270.9" cy="114.1" rx="4.3" ry="3.6" fill="white" stroke="#8a8a8a" stroke-width="1"/>
<ellipse cx="368.4" cy="10.2" rx="4.3" ry="3.6" fill="white" stroke="#8a8a8a" stroke-width="1"/>
<ellipse cx="465.8" cy="10.2" rx="4.3" ry="3.6" fill="white" stroke="#8a8a8a" stroke-width="1"/>
<ellipse cx="563.2" cy="10.2" rx="4.3" ry="3.6" fill="white" stroke="#8a8a8a" stroke-width="1"/>
<ellipse cx="660.7" cy="10.2" rx="4.3" ry="3.6" fill="white" stroke="#8a8a8a" stroke-width="1"/>
<path d="M324.4 342.5 H388.3" stroke="#000" stroke-width="2.2" stroke-dasharray="8 6.5"/>
<path d="M352.1 346.6 L357.3 338.4 L362.5 346.6 Z" fill="none" stroke="#808080" stroke-width="1"/>
<path d="M324.4 394.2 H388.3" stroke="#000" stroke-width="2.2"/>
<rect x="352.1" y="390.1" width="10.4" height="8.2" fill="#000"/>
<path d="M324.4 444.7 H388.3" stroke="#000" stroke-width="2.4" stroke-dasharray="4.2 2.6"/>
<ellipse cx="357.3" cy="444.7" rx="4.4" ry="4.0" fill="white" stroke="#8a8a8a" stroke-width="1"/>
<text transform="translate(394.32,349.80) scale(1.1855,1)" font-family="Liberation Sans" font-size="18.5" font-weight="normal" fill="#1e1e1e" stroke="#1e1e1e" stroke-width="0.2">H</text>
<text transform="translate(409.94,358.80) scale(1.5339,1)" font-family="Liberation Sans" font-size="10.5" font-weight="normal" fill="#1e1e1e" stroke="#1e1e1e" stroke-width="0.2">2</text>
<text transform="translate(418.05,349.80) scale(1.2040,1)" font-family="Liberation Sans" font-size="18.5" font-weight="normal" fill="#1e1e1e" stroke="#1e1e1e" stroke-width="0.2">SO</text>
<text transform="translate(450.12,358.80) scale(1.3343,1)" font-family="Liberation Sans" font-size="10.5" font-weight="normal" fill="#1e1e1e" stroke="#1e1e1e" stroke-width="0.2">4</text>
<text transform="translate(464.12,349.80) scale(1.1719,1)" font-family="Liberation Sans" font-size="18.5" font-weight="normal" fill="#1e1e1e" stroke="#1e1e1e" stroke-width="0.2">concentration= 0.5 M</text>
<text transform="translate(393.87,402.40) scale(1.3057,1)" font-family="Liberation Sans" font-size="18.5" font-weight="bold" fill="#1e1e1e" stroke="#1e1e1e" stroke-width="0.45">H</text>
<text transform="translate(410.27,411.80) scale(1.5074,1)" font-family="Liberation Sans" font-size="10.5" font-weight="bold" fill="#1e1e1e" stroke="#1e1e1e" stroke-width="0.45">2</text>
<text transform="translate(418.92,402.40) scale(1.1608,1)" font-family="Liberation Sans" font-size="18.5" font-weight="bold" fill="#1e1e1e" stroke="#1e1e1e" stroke-width="0.45">SO</text>
<text transform="translate(450.70,411.80) scale(1.4271,1)" font-family="Liberation Sans" font-size="10.5" font-weight="bold" fill="#1e1e1e" stroke="#1e1e1e" stroke-width="0.45">4</text>
<text transform="translate(464.62,402.40) scale(1.1770,1)" font-family="Liberation Sans" font-size="18.5" font-weight="bold" fill="#1e1e1e" stroke="#1e1e1e" stroke-width="0.45">concentration= 1 M</text>
<text transform="translate(393.99,451.70) scale(1.2723,1)" font-family="Liberation Sans" font-size="18.5" font-weight="normal" fill="#1e1e1e" stroke="#1e1e1e" stroke-width="0.2">H</text>
<text transform="translate(410.26,460.90) scale(1.4924,1)" font-family="Liberation Sans" font-size="10.5" font-weight="normal" fill="#1e1e1e" stroke="#1e1e1e" stroke-width="0.2">2</text>
<text transform="translate(418.54,451.70) scale(1.2080,1)" font-family="Liberation Sans" font-size="18.5" font-weight="normal" fill="#1e1e1e" stroke="#1e1e1e" stroke-width="0.2">SO</text>
<text transform="translate(450.40,460.90) scale(1.3907,1)" font-family="Liberation Sans" font-size="10.5" font-weight="normal" fill="#1e1e1e" stroke="#1e1e1e" stroke-width="0.2">4</text>
<text transform="translate(464.32,451.70) scale(1.1719,1)" font-family="Liberation Sans" font-size="18.5" font-weight="normal" fill="#1e1e1e" stroke="#1e1e1e" stroke-width="0.2">concentration= 1.5 M</text>
<path d="M75.5 643.1 H675.5 V1120.0" fill="none" stroke="#2c2c2c" stroke-width="1.7"/>
<path d="M75.5 643.1 V1120.0 H675.5" fill="none" stroke="#1e1e1e" stroke-width="1.8"/>
<path d="M64.5 1120.00 H75.5 M70.0 1096.15 H75.5 M70.0 1072.31 H75.5 M70.0 1048.46 H75.5 M64.5 1024.62 H75.5 M70.0 1000.77 H75.5 M70.0 976.93 H75.5 M70.0 953.09 H75.5 M64.5 929.24 H75.5 M70.0 905.39 H75.5 M70.0 881.55 H75.5 M70.0 857.70 H75.5 M64.5 833.86 H75.5 M70.0 810.01 H75.5 M70.0 786.17 H75.5 M70.0 762.33 H75.5 M64.5 738.48 H75.5 M70.0 714.63 H75.5 M70.0 690.79 H75.5 M70.0 666.94 H75.5 M64.5 643.10 H75.5 M75.50 1120.0 V1130.0 M94.85 1120.0 V1125.0 M114.20 1120.0 V1125.0 M133.55 1120.0 V1125.0 M152.90 1120.0 V1125.0 M172.25 1120.0 V1130.0 M191.60 1120.0 V1125.0 M210.95 1120.0 V1125.0 M230.30 1120.0 V1125.0 M249.65 1120.0 V1125.0 M269.00 1120.0 V1130.0 M288.35 1120.0 V1125.0 M307.70 1120.0 V1125.0 M327.05 1120.0 V1125.0 M346.40 1120.0 V1125.0 M365.75 1120.0 V1130.0 M385.10 1120.0 V1125.0 M404.45 1120.0 V1125.0 M423.80 1120.0 V1125.0 M443.15 1120.0 V1125.0 M462.50 1120.0 V1130.0 M481.85 1120.0 V1125.0 M501.20 1120.0 V1125.0 M520.55 1120.0 V1125.0 M539.90 1120.0 V1125.0 M559.25 1120.0 V1130.0 M578.60 1120.0 V1125.0 M597.95 1120.0 V1125.0 M617.30 1120.0 V1125.0 M636.65 1120.0 V1125.0 M656.00 1120.0 V1130.0 M675.35 1120.0 V1125.0" fill="none" stroke="#1e1e1e" stroke-width="1.6"/>
<text transform="translate(60.30,1126.60) scale(1.18,1)" font-family="Liberation Sans" font-size="18.5" font-weight="normal" text-anchor="end" fill="#1e1e1e" stroke="#1e1e1e" stroke-width="0.2">0</text>
<text transform="translate(60.30,1031.22) scale(1.18,1)" font-family="Liberation Sans" font-size="18.5" font-weight="normal" text-anchor="end" fill="#1e1e1e" stroke="#1e1e1e" stroke-width="0.2">20</text>
<text transform="translate(60.30,935.84) scale(1.18,1)" font-family="Liberation Sans" font-size="18.5" font-weight="normal" text-anchor="end" fill="#1e1e1e" stroke="#1e1e1e" stroke-width="0.2">40</text>
<text transform="translate(60.30,840.46) scale(1.18,1)" font-family="Liberation Sans" font-size="18.5" font-weight="normal" text-anchor="end" fill="#1e1e1e" stroke="#1e1e1e" stroke-width="0.2">60</text>
<text transform="translate(60.30,745.08) scale(1.18,1)" font-family="Liberation Sans" font-size="18.5" font-weight="normal" text-anchor="end" fill="#1e1e1e" stroke="#1e1e1e" stroke-width="0.2">80</text>
<text transform="translate(60.30,649.70) scale(1.18,1)" font-family="Liberation Sans" font-size="18.5" font-weight="normal" text-anchor="end" fill="#1e1e1e" stroke="#1e1e1e" stroke-width="0.2">100</text>
<text transform="translate(75.50,1153.40) scale(1.18,1)" font-family="Liberation Sans" font-size="18.5" font-weight="normal" text-anchor="middle" fill="#1e1e1e" stroke="#1e1e1e" stroke-width="0.2">0</text>
<text transform="translate(172.25,1153.40) scale(1.18,1)" font-family="Liberation Sans" font-size="18.5" font-weight="normal" text-anchor="middle" fill="#1e1e1e" stroke="#1e1e1e" stroke-width="0.2">0.5</text>
<text transform="translate(269.00,1153.40) scale(1.18,1)" font-family="Liberation Sans" font-size="18.5" font-weight="normal" text-anchor="middle" fill="#1e1e1e" stroke="#1e1e1e" stroke-width="0.2">1</text>
<text transform="translate(365.75,1153.40) scale(1.18,1)" font-family="Liberation Sans" font-size="18.5" font-weight="normal" text-anchor="middle" fill="#1e1e1e" stroke="#1e1e1e" stroke-width="0.2">1.5</text>
<text transform="translate(462.50,1153.40) scale(1.18,1)" font-family="Liberation Sans" font-size="18.5" font-weight="normal" text-anchor="middle" fill="#1e1e1e" stroke="#1e1e1e" stroke-width="0.2">2</text>
<text transform="translate(559.25,1153.40) scale(1.18,1)" font-family="Liberation Sans" font-size="18.5" font-weight="normal" text-anchor="middle" fill="#1e1e1e" stroke="#1e1e1e" stroke-width="0.2">2.5</text>
<text transform="translate(656.00,1153.40) scale(1.18,1)" font-family="Liberation Sans" font-size="18.5" font-weight="normal" text-anchor="middle" fill="#1e1e1e" stroke="#1e1e1e" stroke-width="0.2">3</text>
<text transform="translate(375.50,1178.80) scale(1.18,1)" font-family="Liberation Sans" font-size="18.5" font-weight="normal" text-anchor="middle" fill="#1e1e1e" stroke="#1e1e1e" stroke-width="0.2">Time (hour)</text>
<text transform="translate(20.6,881.5) scale(1.19,1) rotate(-90)" font-family="Liberation Sans" font-size="17.8" text-anchor="middle" fill="#1e1e1e" stroke="#1e1e1e" stroke-width="0.2">Leaching percent of Mn</text>
<text x="97.9" y="700.5" font-family="Liberation Serif" font-weight="bold" font-size="35" fill="#000">b</text>
<path d="M75.5 1120.0 L76.5 1119.4 L77.5 1118.5 L78.5 1117.6 L79.5 1116.7 L80.5 1115.8 L81.5 1114.9 L82.5 1114.0 L83.5 1113.1 L84.5 1112.2 L85.5 1111.3 L86.5 1110.4 L87.5 1109.5 L88.5 1108.6 L89.5 1107.6 L90.5 1106.7 L91.5 1105.8 L92.5 1104.9 L93.5 1103.9 L94.5 1103.0 L95.5 1102.0 L96.5 1101.1 L97.5 1100.2 L98.5 1099.2 L99.5 1098.3 L100.5 1097.3 L101.5 1096.4 L102.5 1095.4 L103.5 1094.5 L104.5 1093.5 L105.5 1092.5 L106.5 1091.6 L107.5 1090.6 L108.5 1089.7 L109.5 1088.7 L110.5 1087.7 L111.5 1086.7 L112.5 1085.8 L113.5 1084.8 L114.5 1083.8 L115.5 1082.8 L116.5 1081.9 L117.5 1080.9 L118.5 1079.9 L119.5 1078.9 L120.5 1077.9 L121.5 1076.9 L122.5 1076.0 L123.5 1075.0 L124.5 1074.0 L125.5 1073.0 L126.5 1072.0 L127.5 1071.0 L128.5 1070.0 L129.5 1069.0 L130.5 1068.0 L131.5 1067.0 L132.5 1066.0 L133.5 1065.0 L134.5 1064.0 L135.5 1063.0 L136.5 1062.0 L137.5 1061.0 L138.5 1060.0 L139.5 1058.9 L140.5 1057.9 L141.5 1056.9 L142.5 1055.9 L143.5 1054.9 L144.5 1053.9 L145.5 1052.9 L146.5 1051.9 L147.5 1050.8 L148.5 1049.8 L149.5 1048.8 L150.5 1047.8 L151.5 1046.8 L152.5 1045.8 L153.5 1044.7 L154.5 1043.7 L155.5 1042.7 L156.5 1041.7 L157.5 1040.7 L158.5 1039.6 L159.5 1038.6 L160.5 1037.6 L161.5 1036.6 L162.5 1035.6 L163.5 1034.5 L164.5 1033.5 L165.5 1032.5 L166.5 1031.5 L167.5 1030.4 L168.5 1029.4 L169.5 1028.4 L170.5 1027.4 L171.5 1026.3 L172.5 1025.3 L173.5 1024.3 L174.5 1023.2 L175.5 1022.2 L176.5 1021.2 L177.5 1020.1 L178.5 1019.1 L179.5 1018.1 L180.5 1017.0 L181.5 1016.0 L182.5 1014.9 L183.5 1013.9 L184.5 1012.8 L185.5 1011.8 L186.5 1010.8 L187.5 1009.7 L188.5 1008.7 L189.5 1007.6 L190.5 1006.6 L191.5 1005.5 L192.5 1004.5 L193.5 1003.4 L194.5 1002.3 L195.5 1001.3 L196.5 1000.2 L197.5 999.2 L198.5 998.1 L199.5 997.0 L200.5 996.0 L201.5 994.9 L202.5 993.8 L203.5 992.8 L204.5 991.7 L205.5 990.6 L206.5 989.5 L207.5 988.5 L208.5 987.4 L209.5 986.3 L210.5 985.2 L211.5 984.1 L212.5 983.0 L213.5 981.9 L214.5 980.9 L215.5 979.8 L216.5 978.7 L217.5 977.6 L218.5 976.5 L219.5 975.4 L220.5 974.3 L221.5 973.2 L222.5 972.1 L223.5 971.0 L224.5 969.9 L225.5 968.8 L226.5 967.7 L227.5 966.6 L228.5 965.5 L229.5 964.5 L230.5 963.4 L231.5 962.3 L232.5 961.2 L233.5 960.1 L234.5 959.0 L235.5 958.0 L236.5 956.9 L237.5 955.8 L238.5 954.8 L239.5 953.7 L240.5 952.6 L241.5 951.6 L242.5 950.5 L243.5 949.5 L244.5 948.5 L245.5 947.4 L246.5 946.4 L247.5 945.4 L248.5 944.3 L249.5 943.3 L250.5 942.3 L251.5 941.3 L252.5 940.3 L253.5 939.3 L254.5 938.3 L255.5 937.4 L256.5 936.4 L257.5 935.4 L258.5 934.5 L259.5 933.5 L260.5 932.6 L261.5 931.7 L262.5 930.7 L263.5 929.8 L264.5 928.9 L265.5 928.0 L266.5 927.1 L267.5 926.2 L268.5 925.4 L269.5 924.5 L270.5 923.6 L271.5 922.8 L272.5 921.9 L273.5 921.1 L274.5 920.3 L275.5 919.5 L276.5 918.7 L277.5 917.9 L278.5 917.1 L279.5 916.3 L280.5 915.5 L281.5 914.7 L282.5 914.0 L283.5 913.2 L284.5 912.5 L285.5 911.7 L286.5 911.0 L287.5 910.3 L288.5 909.5 L289.5 908.8 L290.5 908.1 L291.5 907.4 L292.5 906.7 L293.5 906.0 L294.5 905.3 L295.5 904.6 L296.5 903.9 L297.5 903.3 L298.5 902.6 L299.5 901.9 L300.5 901.3 L301.5 900.6 L302.5 900.0 L303.5 899.3 L304.5 898.7 L305.5 898.0 L306.5 897.4 L307.5 896.8 L308.5 896.1 L309.5 895.5 L310.5 894.9 L311.5 894.3 L312.5 893.6 L313.5 893.0 L314.5 892.4 L315.5 891.8 L316.5 891.2 L317.5 890.6 L318.5 890.0 L319.5 889.4 L320.5 888.8 L321.5 888.2 L322.5 887.7 L323.5 887.1 L324.5 886.5 L325.5 885.9 L326.5 885.3 L327.5 884.7 L328.5 884.1 L329.5 883.6 L330.5 883.0 L331.5 882.4 L332.5 881.8 L333.5 881.3 L334.5 880.7 L335.5 880.1 L336.5 879.5 L337.5 879.0 L338.5 878.4 L339.5 877.8 L340.5 877.2 L341.5 876.6 L342.5 876.1 L343.5 875.5 L344.5 874.9 L345.5 874.3 L346.5 873.7 L347.5 873.2 L348.5 872.6 L349.5 872.0 L350.5 871.4 L351.5 870.8 L352.5 870.2 L353.5 869.7 L354.5 869.1 L355.5 868.5 L356.5 867.9 L357.5 867.3 L358.5 866.7 L359.5 866.1 L360.5 865.5 L361.5 864.9 L362.5 864.3 L363.5 863.7 L364.5 863.1 L365.5 862.5 L366.5 861.8 L367.5 861.2 L368.5 860.6 L369.5 860.0 L370.5 859.4 L371.5 858.7 L372.5 858.1 L373.5 857.5 L374.5 856.9 L375.5 856.2 L376.5 855.6 L377.5 854.9 L378.5 854.3 L379.5 853.6 L380.5 853.0 L381.5 852.3 L382.5 851.7 L383.5 851.0 L384.5 850.3 L385.5 849.7 L386.5 849.0 L387.5 848.3 L388.5 847.6 L389.5 847.0 L390.5 846.3 L391.5 845.6 L392.5 844.9 L393.5 844.2 L394.5 843.5 L395.5 842.8 L396.5 842.2 L397.5 841.5 L398.5 840.8 L399.5 840.1 L400.5 839.4 L401.5 838.7 L402.5 838.0 L403.5 837.3 L404.5 836.6 L405.5 836.0 L406.5 835.3 L407.5 834.6 L408.5 833.9 L409.5 833.2 L410.5 832.6 L411.5 831.9 L412.5 831.2 L413.5 830.5 L414.5 829.9 L415.5 829.2 L416.5 828.6 L417.5 827.9 L418.5 827.3 L419.5 826.6 L420.5 826.0 L421.5 825.3 L422.5 824.7 L423.5 824.1 L424.5 823.5 L425.5 822.8 L426.5 822.2 L427.5 821.6 L428.5 821.0 L429.5 820.4 L430.5 819.9 L431.5 819.3 L432.5 818.7 L433.5 818.1 L434.5 817.6 L435.5 817.0 L436.5 816.5 L437.5 815.9 L438.5 815.4 L439.5 814.9 L440.5 814.4 L441.5 813.8 L442.5 813.3 L443.5 812.8 L444.5 812.4 L445.5 811.9 L446.5 811.4 L447.5 810.9 L448.5 810.5 L449.5 810.0 L450.5 809.5 L451.5 809.1 L452.5 808.7 L453.5 808.2 L454.5 807.8 L455.5 807.4 L456.5 807.0 L457.5 806.6 L458.5 806.2 L459.5 805.9 L460.5 805.5 L461.5 805.1 L462.5 804.8 L463.5 804.4 L464.5 804.1 L465.5 803.8 L466.5 803.4 L467.5 803.1 L468.5 802.8 L469.5 802.5 L470.5 802.3 L471.5 802.0 L472.5 801.7 L473.5 801.4 L474.5 801.2 L475.5 800.9 L476.5 800.7 L477.5 800.5 L478.5 800.3 L479.5 800.0 L480.5 799.8 L481.5 799.6 L482.5 799.4 L483.5 799.2 L484.5 799.0 L485.5 798.9 L486.5 798.7 L487.5 798.5 L488.5 798.3 L489.5 798.2 L490.5 798.0 L491.5 797.9 L492.5 797.7 L493.5 797.6 L494.5 797.4 L495.5 797.3 L496.5 797.1 L497.5 797.0 L498.5 796.8 L499.5 796.7 L500.5 796.6 L501.5 796.4 L502.5 796.3 L503.5 796.2 L504.5 796.0 L505.5 795.9 L506.5 795.8 L507.5 795.6 L508.5 795.5 L509.5 795.4 L510.5 795.3 L511.5 795.2 L512.5 795.0 L513.5 794.9 L514.5 794.8 L515.5 794.7 L516.5 794.6 L517.5 794.5 L518.5 794.3 L519.5 794.2 L520.5 794.1 L521.5 794.0 L522.5 793.9 L523.5 793.8 L524.5 793.7 L525.5 793.6 L526.5 793.5 L527.5 793.4 L528.5 793.3 L529.5 793.2 L530.5 793.1 L531.5 793.0 L532.5 792.9 L533.5 792.8 L534.5 792.7 L535.5 792.6 L536.5 792.5 L537.5 792.4 L538.5 792.3 L539.5 792.2 L540.5 792.2 L541.5 792.1 L542.5 792.0 L543.5 791.9 L544.5 791.8 L545.5 791.7 L546.5 791.6 L547.5 791.5 L548.5 791.5 L549.5 791.4 L550.5 791.3 L551.5 791.2 L552.5 791.1 L553.5 791.0 L554.5 790.9 L555.5 790.9 L556.5 790.8 L557.5 790.7 L558.5 790.6 L559.5 790.5 L560.5 790.5 L561.5 790.4 L562.5 790.3 L563.5 790.2 L564.5 790.1 L565.5 790.0 L566.5 790.0 L567.5 789.9 L568.5 789.8 L569.5 789.7 L570.5 789.6 L571.5 789.6 L572.5 789.5 L573.5 789.4 L574.5 789.3 L575.5 789.2 L576.5 789.2 L577.5 789.1 L578.5 789.0 L579.5 788.9 L580.5 788.8 L581.5 788.8 L582.5 788.7 L583.5 788.6 L584.5 788.5 L585.5 788.4 L586.5 788.3 L587.5 788.3 L588.5 788.2 L589.5 788.1 L590.5 788.0 L591.5 787.9 L592.5 787.8 L593.5 787.7 L594.5 787.6 L595.5 787.6 L596.5 787.5 L597.5 787.4 L598.5 787.3 L599.5 787.2 L600.5 787.1 L601.5 787.0 L602.5 786.9 L603.5 786.8 L604.5 786.7 L605.5 786.6 L606.5 786.5 L607.5 786.4 L608.5 786.3 L609.5 786.2 L610.5 786.1 L611.5 786.0 L612.5 785.9 L613.5 785.8 L614.5 785.7 L615.5 785.6 L616.5 785.5 L617.5 785.4 L618.5 785.3 L619.5 785.2 L620.5 785.1 L621.5 785.0 L622.5 784.9 L623.5 784.8 L624.5 784.6 L625.5 784.5 L626.5 784.4 L627.5 784.3 L628.5 784.2 L629.5 784.0 L630.5 783.9 L631.5 783.8 L632.5 783.7 L633.5 783.5 L634.5 783.4 L635.5 783.3 L636.5 783.1 L637.5 783.0 L638.5 782.9 L639.5 782.7 L640.5 782.6 L641.5 782.5 L642.5 782.3 L643.5 782.2 L644.5 782.0 L645.5 781.9 L646.5 781.7 L647.5 781.6 L648.5 781.4 L649.5 781.4 L650.5 781.4 L651.5 781.4 L652.5 781.4 L653.5 781.4 L654.5 781.4 L655.5 781.4" fill="none" stroke="#000" stroke-width="2.9" stroke-linecap="round" stroke-dasharray="5.5 10.0"/>
<path d="M75.5 1120.0 L76.5 1118.8 L77.5 1117.3 L78.5 1115.7 L79.5 1114.2 L80.5 1112.7 L81.5 1111.1 L82.5 1109.6 L83.5 1108.1 L84.5 1106.6 L85.5 1105.1 L86.5 1103.7 L87.5 1102.2 L88.5 1100.7 L89.5 1099.3 L90.5 1097.8 L91.5 1096.4 L92.5 1094.9 L93.5 1093.5 L94.5 1092.1 L95.5 1090.7 L96.5 1089.2 L97.5 1087.8 L98.5 1086.4 L99.5 1085.0 L100.5 1083.6 L101.5 1082.2 L102.5 1080.9 L103.5 1079.5 L104.5 1078.1 L105.5 1076.7 L106.5 1075.4 L107.5 1074.0 L108.5 1072.6 L109.5 1071.3 L110.5 1069.9 L111.5 1068.6 L112.5 1067.2 L113.5 1065.9 L114.5 1064.5 L115.5 1063.2 L116.5 1061.8 L117.5 1060.5 L118.5 1059.2 L119.5 1057.8 L120.5 1056.5 L121.5 1055.2 L122.5 1053.8 L123.5 1052.5 L124.5 1051.2 L125.5 1049.8 L126.5 1048.5 L127.5 1047.1 L128.5 1045.8 L129.5 1044.5 L130.5 1043.1 L131.5 1041.8 L132.5 1040.5 L133.5 1039.1 L134.5 1037.8 L135.5 1036.5 L136.5 1035.1 L137.5 1033.8 L138.5 1032.4 L139.5 1031.1 L140.5 1029.8 L141.5 1028.4 L142.5 1027.1 L143.5 1025.7 L144.5 1024.4 L145.5 1023.1 L146.5 1021.7 L147.5 1020.4 L148.5 1019.1 L149.5 1017.7 L150.5 1016.4 L151.5 1015.1 L152.5 1013.7 L153.5 1012.4 L154.5 1011.1 L155.5 1009.8 L156.5 1008.5 L157.5 1007.1 L158.5 1005.8 L159.5 1004.5 L160.5 1003.2 L161.5 1001.9 L162.5 1000.6 L163.5 999.3 L164.5 998.0 L165.5 996.7 L166.5 995.4 L167.5 994.1 L168.5 992.8 L169.5 991.4 L170.5 990.1 L171.5 988.7 L172.5 987.4 L173.5 986.0 L174.5 984.5 L175.5 983.1 L176.5 981.6 L177.5 980.1 L178.5 978.5 L179.5 976.9 L180.5 975.3 L181.5 973.7 L182.5 972.0 L183.5 970.3 L184.5 968.5 L185.5 966.8 L186.5 965.0 L187.5 963.1 L188.5 961.3 L189.5 959.4 L190.5 957.6 L191.5 955.7 L192.5 953.8 L193.5 951.9 L194.5 950.1 L195.5 948.2 L196.5 946.3 L197.5 944.4 L198.5 942.5 L199.5 940.7 L200.5 938.8 L201.5 937.0 L202.5 935.1 L203.5 933.3 L204.5 931.5 L205.5 929.7 L206.5 927.9 L207.5 926.2 L208.5 924.4 L209.5 922.7 L210.5 921.0 L211.5 919.3 L212.5 917.6 L213.5 916.0 L214.5 914.3 L215.5 912.7 L216.5 911.1 L217.5 909.5 L218.5 907.9 L219.5 906.3 L220.5 904.7 L221.5 903.1 L222.5 901.5 L223.5 899.9 L224.5 898.3 L225.5 896.6 L226.5 895.0 L227.5 893.4 L228.5 891.7 L229.5 890.1 L230.5 888.4 L231.5 886.7 L232.5 884.9 L233.5 883.2 L234.5 881.4 L235.5 879.6 L236.5 877.8 L237.5 876.0 L238.5 874.2 L239.5 872.3 L240.5 870.5 L241.5 868.6 L242.5 866.7 L243.5 864.9 L244.5 863.0 L245.5 861.2 L246.5 859.3 L247.5 857.5 L248.5 855.6 L249.5 853.8 L250.5 852.0 L251.5 850.2 L252.5 848.5 L253.5 846.7 L254.5 845.0 L255.5 843.3 L256.5 841.6 L257.5 840.0 L258.5 838.4 L259.5 836.8 L260.5 835.3 L261.5 833.7 L262.5 832.2 L263.5 830.8 L264.5 829.3 L265.5 827.9 L266.5 826.5 L267.5 825.1 L268.5 823.8 L269.5 822.4 L270.5 821.1 L271.5 819.8 L272.5 818.5 L273.5 817.2 L274.5 816.0 L275.5 814.7 L276.5 813.5 L277.5 812.3 L278.5 811.1 L279.5 809.9 L280.5 808.7 L281.5 807.5 L282.5 806.3 L283.5 805.1 L284.5 803.9 L285.5 802.7 L286.5 801.6 L287.5 800.4 L288.5 799.2 L289.5 798.0 L290.5 796.9 L291.5 795.7 L292.5 794.6 L293.5 793.4 L294.5 792.3 L295.5 791.1 L296.5 790.0 L297.5 788.9 L298.5 787.7 L299.5 786.6 L300.5 785.5 L301.5 784.4 L302.5 783.4 L303.5 782.3 L304.5 781.2 L305.5 780.2 L306.5 779.2 L307.5 778.1 L308.5 777.1 L309.5 776.1 L310.5 775.1 L311.5 774.2 L312.5 773.2 L313.5 772.3 L314.5 771.3 L315.5 770.4 L316.5 769.5 L317.5 768.6 L318.5 767.7 L319.5 766.8 L320.5 765.9 L321.5 765.0 L322.5 764.1 L323.5 763.3 L324.5 762.4 L325.5 761.5 L326.5 760.7 L327.5 759.9 L328.5 759.0 L329.5 758.2 L330.5 757.3 L331.5 756.5 L332.5 755.7 L333.5 754.9 L334.5 754.0 L335.5 753.2 L336.5 752.4 L337.5 751.6 L338.5 750.7 L339.5 749.9 L340.5 749.1 L341.5 748.3 L342.5 747.4 L343.5 746.6 L344.5 745.8 L345.5 744.9 L346.5 744.1 L347.5 743.2 L348.5 742.4 L349.5 741.5 L350.5 740.7 L351.5 739.8 L352.5 739.0 L353.5 738.1 L354.5 737.3 L355.5 736.4 L356.5 735.5 L357.5 734.6 L358.5 733.8 L359.5 732.9 L360.5 732.0 L361.5 731.1 L362.5 730.2 L363.5 729.4 L364.5 728.5 L365.5 727.6 L366.5 726.7 L367.5 725.8 L368.5 724.9 L369.5 724.0 L370.5 723.1 L371.5 722.2 L372.5 721.3 L373.5 720.4 L374.5 719.5 L375.5 718.6 L376.5 717.7 L377.5 716.8 L378.5 715.9 L379.5 715.0 L380.5 714.1 L381.5 713.2 L382.5 712.3 L383.5 711.4 L384.5 710.5 L385.5 709.6 L386.5 708.7 L387.5 707.8 L388.5 706.9 L389.5 706.0 L390.5 705.1 L391.5 704.2 L392.5 703.4 L393.5 702.5 L394.5 701.6 L395.5 700.7 L396.5 699.8 L397.5 698.9 L398.5 698.0 L399.5 697.1 L400.5 696.2 L401.5 695.3 L402.5 694.5 L403.5 693.6 L404.5 692.7 L405.5 691.8 L406.5 691.0 L407.5 690.1 L408.5 689.2 L409.5 688.3 L410.5 687.5 L411.5 686.6 L412.5 685.8 L413.5 684.9 L414.5 684.1 L415.5 683.2 L416.5 682.4 L417.5 681.5 L418.5 680.7 L419.5 679.8 L420.5 679.0 L421.5 678.2 L422.5 677.4 L423.5 676.5 L424.5 675.7 L425.5 674.9 L426.5 674.1 L427.5 673.3 L428.5 672.5 L429.5 671.7 L430.5 671.0 L431.5 670.2 L432.5 669.4 L433.5 668.7 L434.5 667.9 L435.5 667.2 L436.5 666.4 L437.5 665.7 L438.5 665.0 L439.5 664.3 L440.5 663.6 L441.5 662.9 L442.5 662.3 L443.5 661.6 L444.5 661.0 L445.5 660.3 L446.5 659.7 L447.5 659.1 L448.5 658.5 L449.5 657.9 L450.5 657.3 L451.5 656.8 L452.5 656.2 L453.5 655.7 L454.5 655.2 L455.5 654.6 L456.5 654.2 L457.5 653.7 L458.5 653.2 L459.5 652.8 L460.5 652.4 L461.5 651.9 L462.5 651.5 L463.5 651.2 L464.5 650.8 L465.5 650.5 L466.5 650.1 L467.5 649.8 L468.5 649.5 L469.5 649.2 L470.5 648.9 L471.5 648.7 L472.5 648.4 L473.5 648.2 L474.5 648.0 L475.5 647.7 L476.5 647.5 L477.5 647.3 L478.5 647.2 L479.5 647.0 L480.5 646.8 L481.5 646.7 L482.5 646.6 L483.5 646.4 L484.5 646.3 L485.5 646.2 L486.5 646.1 L487.5 646.0 L488.5 646.0 L489.5 646.0 L490.5 646.0 L491.5 646.0 L492.5 646.0 L493.5 646.0 L494.5 646.0 L495.5 646.0 L496.5 646.0 L497.5 646.0 L498.5 646.0 L499.5 646.0 L500.5 646.0 L501.5 646.0 L502.5 646.0 L503.5 646.0 L504.5 646.0 L505.5 646.0 L506.5 646.0 L507.5 646.0 L508.5 646.0 L509.5 646.0 L510.5 646.0 L511.5 646.0 L512.5 646.0 L513.5 646.0 L514.5 646.0 L515.5 646.0 L516.5 646.0 L517.5 646.0 L518.5 646.0 L519.5 646.0 L520.5 646.0 L521.5 646.0 L522.5 646.0 L523.5 646.1 L524.5 646.1 L525.5 646.1 L526.5 646.1 L527.5 646.2 L528.5 646.2 L529.5 646.2 L530.5 646.2 L531.5 646.2 L532.5 646.3 L533.5 646.3 L534.5 646.3 L535.5 646.3 L536.5 646.3 L537.5 646.3 L538.5 646.3 L539.5 646.3 L540.5 646.4 L541.5 646.4 L542.5 646.4 L543.5 646.4 L544.5 646.4 L545.5 646.4 L546.5 646.4 L547.5 646.4 L548.5 646.4 L549.5 646.4 L550.5 646.4 L551.5 646.4 L552.5 646.4 L553.5 646.4 L554.5 646.4 L555.5 646.4 L556.5 646.4 L557.5 646.4 L558.5 646.4 L559.5 646.4 L560.5 646.3 L561.5 646.3 L562.5 646.3 L563.5 646.3 L564.5 646.3 L565.5 646.3 L566.5 646.3 L567.5 646.3 L568.5 646.3 L569.5 646.3 L570.5 646.2 L571.5 646.2 L572.5 646.2 L573.5 646.2 L574.5 646.2 L575.5 646.2 L576.5 646.2 L577.5 646.2 L578.5 646.1 L579.5 646.1 L580.5 646.1 L581.5 646.1 L582.5 646.1 L583.5 646.1 L584.5 646.1 L585.5 646.1 L586.5 646.0 L587.5 646.0 L588.5 646.0 L589.5 646.0 L590.5 646.0 L591.5 646.0 L592.5 646.0 L593.5 646.0 L594.5 646.0 L595.5 646.0 L596.5 646.0 L597.5 646.0 L598.5 646.0 L599.5 646.0 L600.5 646.0 L601.5 646.0 L602.5 646.0 L603.5 646.0 L604.5 646.0 L605.5 646.0 L606.5 646.0 L607.5 646.0 L608.5 646.0 L609.5 646.0 L610.5 646.0 L611.5 646.0 L612.5 646.0 L613.5 646.0 L614.5 646.0 L615.5 646.0 L616.5 646.0 L617.5 646.0 L618.5 646.0 L619.5 646.0 L620.5 646.0 L621.5 646.0 L622.5 646.0 L623.5 646.0 L624.5 646.0 L625.5 646.0 L626.5 646.0 L627.5 646.0 L628.5 646.0 L629.5 646.0 L630.5 646.0 L631.5 646.0 L632.5 646.0 L633.5 646.0 L634.5 646.0 L635.5 646.0 L636.5 646.0 L637.5 646.0 L638.5 646.0 L639.5 646.0 L640.5 646.0 L641.5 646.0 L642.5 646.0 L643.5 646.0 L644.5 646.0 L645.5 646.0 L646.5 646.0 L647.5 646.0 L648.5 646.0 L649.5 646.0 L650.5 646.0 L651.5 646.1 L652.5 646.1 L653.5 646.1 L654.5 646.2 L655.5 646.2" fill="none" stroke="#000" stroke-width="3.0"/>
<path d="M75.5 1120.0 L76.5 1115.9 L77.5 1113.8 L78.5 1111.8 L79.5 1109.8 L80.5 1107.9 L81.5 1105.9 L82.5 1104.0 L83.5 1102.1 L84.5 1100.2 L85.5 1098.3 L86.5 1096.5 L87.5 1094.6 L88.5 1092.8 L89.5 1091.0 L90.5 1089.3 L91.5 1087.5 L92.5 1085.8 L93.5 1084.0 L94.5 1082.3 L95.5 1080.6 L96.5 1078.9 L97.5 1077.3 L98.5 1075.6 L99.5 1074.0 L100.5 1072.4 L101.5 1070.8 L102.5 1069.2 L103.5 1067.6 L104.5 1066.0 L105.5 1064.5 L106.5 1062.9 L107.5 1061.4 L108.5 1059.9 L109.5 1058.4 L110.5 1056.9 L111.5 1055.4 L112.5 1053.9 L113.5 1052.5 L114.5 1051.0 L115.5 1049.5 L116.5 1048.1 L117.5 1046.7 L118.5 1045.2 L119.5 1043.8 L120.5 1042.4 L121.5 1041.0 L122.5 1039.6 L123.5 1038.2 L124.5 1036.8 L125.5 1035.4 L126.5 1034.0 L127.5 1032.6 L128.5 1031.3 L129.5 1029.9 L130.5 1028.5 L131.5 1027.2 L132.5 1025.8 L133.5 1024.4 L134.5 1023.1 L135.5 1021.7 L136.5 1020.4 L137.5 1019.0 L138.5 1017.6 L139.5 1016.3 L140.5 1014.9 L141.5 1013.6 L142.5 1012.2 L143.5 1010.8 L144.5 1009.5 L145.5 1008.1 L146.5 1006.7 L147.5 1005.3 L148.5 1004.0 L149.5 1002.6 L150.5 1001.2 L151.5 999.8 L152.5 998.4 L153.5 997.0 L154.5 995.6 L155.5 994.2 L156.5 992.7 L157.5 991.3 L158.5 989.9 L159.5 988.4 L160.5 987.0 L161.5 985.5 L162.5 984.1 L163.5 982.6 L164.5 981.1 L165.5 979.6 L166.5 978.1 L167.5 976.6 L168.5 975.0 L169.5 973.5 L170.5 971.9 L171.5 970.4 L172.5 968.8 L173.5 967.2 L174.5 965.6 L175.5 964.0 L176.5 962.3 L177.5 960.7 L178.5 959.0 L179.5 957.3 L180.5 955.7 L181.5 954.0 L182.5 952.3 L183.5 950.6 L184.5 948.8 L185.5 947.1 L186.5 945.4 L187.5 943.6 L188.5 941.9 L189.5 940.1 L190.5 938.3 L191.5 936.5 L192.5 934.8 L193.5 933.0 L194.5 931.2 L195.5 929.4 L196.5 927.5 L197.5 925.7 L198.5 923.9 L199.5 922.1 L200.5 920.2 L201.5 918.4 L202.5 916.6 L203.5 914.7 L204.5 912.9 L205.5 911.0 L206.5 909.2 L207.5 907.3 L208.5 905.5 L209.5 903.6 L210.5 901.8 L211.5 899.9 L212.5 898.1 L213.5 896.2 L214.5 894.4 L215.5 892.5 L216.5 890.7 L217.5 888.8 L218.5 887.0 L219.5 885.1 L220.5 883.3 L221.5 881.4 L222.5 879.6 L223.5 877.8 L224.5 875.9 L225.5 874.1 L226.5 872.3 L227.5 870.5 L228.5 868.7 L229.5 866.9 L230.5 865.1 L231.5 863.3 L232.5 861.5 L233.5 859.8 L234.5 858.0 L235.5 856.2 L236.5 854.5 L237.5 852.8 L238.5 851.0 L239.5 849.3 L240.5 847.6 L241.5 845.9 L242.5 844.2 L243.5 842.5 L244.5 840.9 L245.5 839.2 L246.5 837.6 L247.5 836.0 L248.5 834.3 L249.5 832.7 L250.5 831.2 L251.5 829.6 L252.5 828.0 L253.5 826.5 L254.5 824.9 L255.5 823.4 L256.5 821.9 L257.5 820.4 L258.5 818.9 L259.5 817.5 L260.5 816.0 L261.5 814.6 L262.5 813.1 L263.5 811.7 L264.5 810.3 L265.5 808.9 L266.5 807.5 L267.5 806.2 L268.5 804.8 L269.5 803.5 L270.5 802.1 L271.5 800.8 L272.5 799.5 L273.5 798.2 L274.5 796.9 L275.5 795.6 L276.5 794.4 L277.5 793.1 L278.5 791.8 L279.5 790.6 L280.5 789.4 L281.5 788.2 L282.5 786.9 L283.5 785.7 L284.5 784.6 L285.5 783.4 L286.5 782.2 L287.5 781.0 L288.5 779.9 L289.5 778.7 L290.5 777.6 L291.5 776.5 L292.5 775.4 L293.5 774.3 L294.5 773.2 L295.5 772.1 L296.5 771.0 L297.5 769.9 L298.5 768.8 L299.5 767.8 L300.5 766.7 L301.5 765.7 L302.5 764.6 L303.5 763.6 L304.5 762.6 L305.5 761.5 L306.5 760.5 L307.5 759.5 L308.5 758.5 L309.5 757.5 L310.5 756.5 L311.5 755.5 L312.5 754.6 L313.5 753.6 L314.5 752.6 L315.5 751.7 L316.5 750.7 L317.5 749.8 L318.5 748.8 L319.5 747.9 L320.5 746.9 L321.5 746.0 L322.5 745.1 L323.5 744.2 L324.5 743.3 L325.5 742.4 L326.5 741.5 L327.5 740.6 L328.5 739.7 L329.5 738.8 L330.5 737.9 L331.5 737.0 L332.5 736.2 L333.5 735.3 L334.5 734.4 L335.5 733.6 L336.5 732.7 L337.5 731.9 L338.5 731.0 L339.5 730.2 L340.5 729.4 L341.5 728.5 L342.5 727.7 L343.5 726.9 L344.5 726.1 L345.5 725.2 L346.5 724.4 L347.5 723.6 L348.5 722.8 L349.5 722.0 L350.5 721.2 L351.5 720.4 L352.5 719.7 L353.5 718.9 L354.5 718.1 L355.5 717.3 L356.5 716.5 L357.5 715.8 L358.5 715.0 L359.5 714.2 L360.5 713.5 L361.5 712.7 L362.5 712.0 L363.5 711.2 L364.5 710.4 L365.5 709.7 L366.5 709.0 L367.5 708.2 L368.5 707.5 L369.5 706.7 L370.5 706.0 L371.5 705.3 L372.5 704.5 L373.5 703.8 L374.5 703.1 L375.5 702.4 L376.5 701.6 L377.5 700.9 L378.5 700.2 L379.5 699.5 L380.5 698.8 L381.5 698.1 L382.5 697.3 L383.5 696.6 L384.5 695.9 L385.5 695.2 L386.5 694.5 L387.5 693.8 L388.5 693.1 L389.5 692.4 L390.5 691.7 L391.5 691.0 L392.5 690.3 L393.5 689.6 L394.5 689.0 L395.5 688.3 L396.5 687.6 L397.5 686.9 L398.5 686.2 L399.5 685.5 L400.5 684.9 L401.5 684.2 L402.5 683.5 L403.5 682.9 L404.5 682.2 L405.5 681.5 L406.5 680.9 L407.5 680.2 L408.5 679.6 L409.5 678.9 L410.5 678.3 L411.5 677.7 L412.5 677.0 L413.5 676.4 L414.5 675.8 L415.5 675.1 L416.5 674.5 L417.5 673.9 L418.5 673.3 L419.5 672.7 L420.5 672.1 L421.5 671.5 L422.5 670.9 L423.5 670.3 L424.5 669.7 L425.5 669.1 L426.5 668.6 L427.5 668.0 L428.5 667.4 L429.5 666.9 L430.5 666.3 L431.5 665.8 L432.5 665.2 L433.5 664.7 L434.5 664.2 L435.5 663.6 L436.5 663.1 L437.5 662.6 L438.5 662.1 L439.5 661.6 L440.5 661.1 L441.5 660.6 L442.5 660.1 L443.5 659.6 L444.5 659.2 L445.5 658.7 L446.5 658.2 L447.5 657.8 L448.5 657.3 L449.5 656.9 L450.5 656.5 L451.5 656.0 L452.5 655.6 L453.5 655.2 L454.5 654.8 L455.5 654.4 L456.5 654.0 L457.5 653.6 L458.5 653.3 L459.5 652.9 L460.5 652.5 L461.5 652.2 L462.5 651.8 L463.5 651.5 L464.5 651.2 L465.5 650.9 L466.5 650.5 L467.5 650.2 L468.5 650.0 L469.5 649.7 L470.5 649.4 L471.5 649.1 L472.5 648.9 L473.5 648.6 L474.5 648.4 L475.5 648.1 L476.5 647.9 L477.5 647.7 L478.5 647.5 L479.5 647.3 L480.5 647.1 L481.5 646.9 L482.5 646.7 L483.5 646.5 L484.5 646.4 L485.5 646.2 L486.5 646.1 L487.5 646.0 L488.5 646.0 L489.5 646.0 L490.5 646.0 L491.5 646.0 L492.5 646.0 L493.5 646.0 L494.5 646.0 L495.5 646.0 L496.5 646.0 L497.5 646.0 L498.5 646.0 L499.5 646.0 L500.5 646.0 L501.5 646.0 L502.5 646.0 L503.5 646.0 L504.5 646.0 L505.5 646.0 L506.5 646.0 L507.5 646.0 L508.5 646.0 L509.5 646.0 L510.5 646.0 L511.5 646.0 L512.5 646.0 L513.5 646.0 L514.5 646.0 L515.5 646.0 L516.5 646.0 L517.5 646.0 L518.5 646.0 L519.5 646.0 L520.5 646.0 L521.5 646.0 L522.5 646.0 L523.5 646.0 L524.5 646.0 L525.5 646.0 L526.5 646.0 L527.5 646.0 L528.5 646.0 L529.5 646.0 L530.5 646.0 L531.5 646.0 L532.5 646.0 L533.5 646.0 L534.5 646.0 L535.5 646.0 L536.5 646.0 L537.5 646.0 L538.5 646.0 L539.5 646.0 L540.5 646.0 L541.5 646.0 L542.5 646.0 L543.5 646.0 L544.5 646.0 L545.5 646.0 L546.5 646.0 L547.5 646.0 L548.5 646.0 L549.5 646.0 L550.5 646.0 L551.5 646.0 L552.5 646.0 L553.5 646.0 L554.5 646.0 L555.5 646.1 L556.5 646.1 L557.5 646.2 L558.5 646.3 L559.5 646.3 L560.5 646.4 L561.5 646.4 L562.5 646.5 L563.5 646.5 L564.5 646.6 L565.5 646.6 L566.5 646.6 L567.5 646.7 L568.5 646.7 L569.5 646.8 L570.5 646.8 L571.5 646.8 L572.5 646.9 L573.5 646.9 L574.5 646.9 L575.5 646.9 L576.5 646.9 L577.5 647.0 L578.5 647.0 L579.5 647.0 L580.5 647.0 L581.5 647.0 L582.5 647.0 L583.5 647.0 L584.5 647.0 L585.5 647.0 L586.5 647.0 L587.5 646.9 L588.5 646.9 L589.5 646.9 L590.5 646.9 L591.5 646.9 L592.5 646.8 L593.5 646.8 L594.5 646.8 L595.5 646.8 L596.5 646.7 L597.5 646.7 L598.5 646.7 L599.5 646.7 L600.5 646.6 L601.5 646.6 L602.5 646.6 L603.5 646.5 L604.5 646.5 L605.5 646.4 L606.5 646.4 L607.5 646.4 L608.5 646.3 L609.5 646.3 L610.5 646.3 L611.5 646.2 L612.5 646.2 L613.5 646.2 L614.5 646.1 L615.5 646.1 L616.5 646.0 L617.5 646.0 L618.5 646.0 L619.5 646.0 L620.5 646.0 L621.5 646.0 L622.5 646.0 L623.5 646.0 L624.5 646.0 L625.5 646.0 L626.5 646.0 L627.5 646.0 L628.5 646.0 L629.5 646.0 L630.5 646.0 L631.5 646.0 L632.5 646.0 L633.5 646.0 L634.5 646.0 L635.5 646.0 L636.5 646.0 L637.5 646.0 L638.5 646.0 L639.5 646.0 L640.5 646.0 L641.5 646.0 L642.5 646.0 L643.5 646.0 L644.5 646.0 L645.5 646.0 L646.5 646.0 L647.5 646.0 L648.5 646.0 L649.5 646.0 L650.5 646.0 L651.5 646.0 L652.5 646.0 L653.5 646.0 L654.5 646.0 L655.5 646.0" fill="none" stroke="#000" stroke-width="3.0" stroke-linecap="round" stroke-dasharray="1.2 6.4"/>
<ellipse cx="75.5" cy="1120.0" rx="4.3" ry="3.6" fill="none" stroke="#8a8a8a" stroke-width="1"/>
<ellipse cx="123.9" cy="1033.7" rx="4.3" ry="3.6" fill="none" stroke="#8a8a8a" stroke-width="1"/>
<ellipse cx="172.2" cy="974.5" rx="4.3" ry="3.6" fill="none" stroke="#8a8a8a" stroke-width="1"/>
<ellipse cx="220.6" cy="881.1" rx="4.3" ry="3.6" fill="none" stroke="#8a8a8a" stroke-width="1"/>
<ellipse cx="269.0" cy="800.0" rx="4.3" ry="3.6" fill="none" stroke="#8a8a8a" stroke-width="1"/>
<ellipse cx="365.8" cy="708.9" rx="4.3" ry="3.6" fill="none" stroke="#8a8a8a" stroke-width="1"/>
<ellipse cx="462.5" cy="646.0" rx="4.3" ry="3.6" fill="none" stroke="#8a8a8a" stroke-width="1"/>
<ellipse cx="559.2" cy="646.0" rx="4.3" ry="3.6" fill="none" stroke="#8a8a8a" stroke-width="1"/>
<ellipse cx="656.0" cy="646.0" rx="4.3" ry="3.6" fill="none" stroke="#8a8a8a" stroke-width="1"/>
<path d="M70.3 1124.1 L75.5 1115.9 L80.7 1124.1 Z" fill="none" stroke="#808080" stroke-width="1"/>
<path d="M118.7 1081.7 L123.9 1073.5 L129.1 1081.7 Z" fill="none" stroke="#808080" stroke-width="1"/>
<path d="M167.1 1029.2 L172.2 1021.0 L177.4 1029.2 Z" fill="none" stroke="#808080" stroke-width="1"/>
<path d="M215.4 981.5 L220.6 973.3 L225.8 981.5 Z" fill="none" stroke="#808080" stroke-width="1"/>
<path d="M263.8 925.2 L269.0 917.0 L274.2 925.2 Z" fill="none" stroke="#808080" stroke-width="1"/>
<path d="M360.6 867.1 L365.8 858.9 L370.9 867.1 Z" fill="none" stroke="#808080" stroke-width="1"/>
<path d="M457.3 805.1 L462.5 796.9 L467.7 805.1 Z" fill="none" stroke="#808080" stroke-width="1"/>
<path d="M554.0 796.0 L559.2 787.8 L564.5 796.0 Z" fill="none" stroke="#808080" stroke-width="1"/>
<path d="M650.8 785.5 L656.0 777.3 L661.2 785.5 Z" fill="none" stroke="#808080" stroke-width="1"/>
<rect x="70.3" y="1115.9" width="10.4" height="8.2" fill="#000"/>
<rect x="118.7" y="1049.6" width="10.4" height="8.2" fill="#000"/>
<rect x="167.1" y="986.7" width="10.4" height="8.2" fill="#000"/>
<rect x="215.4" y="901.8" width="10.4" height="8.2" fill="#000"/>
<rect x="263.8" y="815.9" width="10.4" height="8.2" fill="#000"/>
<rect x="360.6" y="725.3" width="10.4" height="8.2" fill="#000"/>
<rect x="457.3" y="641.9" width="10.4" height="8.2" fill="#000"/>
<rect x="554.0" y="641.9" width="10.4" height="8.2" fill="#000"/>
<rect x="650.8" y="641.9" width="10.4" height="8.2" fill="#000"/>
<path d="M319.2 980.1 H382.3" stroke="#000" stroke-width="2.2" stroke-dasharray="8 6.5"/>
<path d="M346.5 984.2 L351.7 976.0 L356.9 984.2 Z" fill="none" stroke="#808080" stroke-width="1"/>
<path d="M319.2 1027.1 H382.3" stroke="#000" stroke-width="2.2"/>
<rect x="346.5" y="1023.0" width="10.4" height="8.2" fill="#000"/>
<path d="M319.2 1076.3 H382.3" stroke="#000" stroke-width="2.4" stroke-dasharray="4.2 2.6"/>
<ellipse cx="351.7" cy="1076.3" rx="4.4" ry="4.0" fill="none" stroke="#8a8a8a" stroke-width="1"/>
<text transform="translate(387.65,987.10) scale(1.3012,1)" font-family="Liberation Sans" font-size="18.5" font-weight="normal" fill="#1e1e1e" stroke="#1e1e1e" stroke-width="0.2">H</text>
<text transform="translate(403.63,996.20) scale(1.5546,1)" font-family="Liberation Sans" font-size="10.5" font-weight="normal" fill="#1e1e1e" stroke="#1e1e1e" stroke-width="0.2">2</text>
<text transform="translate(411.96,987.10) scale(1.1920,1)" font-family="Liberation Sans" font-size="18.5" font-weight="normal" fill="#1e1e1e" stroke="#1e1e1e" stroke-width="0.2">SO</text>
<text transform="translate(443.63,996.20) scale(1.2780,1)" font-family="Liberation Sans" font-size="10.5" font-weight="normal" fill="#1e1e1e" stroke="#1e1e1e" stroke-width="0.2">4</text>
<text transform="translate(457.03,987.10) scale(1.1649,1)" font-family="Liberation Sans" font-size="18.5" font-weight="normal" fill="#1e1e1e" stroke="#1e1e1e" stroke-width="0.2">concentration= 0.5 M</text>
<text transform="translate(388.01,1035.00) scale(1.2690,1)" font-family="Liberation Sans" font-size="18.5" font-weight="bold" fill="#1e1e1e" stroke="#1e1e1e" stroke-width="0.45">H</text>
<text transform="translate(403.88,1044.20) scale(1.4683,1)" font-family="Liberation Sans" font-size="10.5" font-weight="bold" fill="#1e1e1e" stroke="#1e1e1e" stroke-width="0.45">2</text>
<text transform="translate(411.99,1035.00) scale(1.2118,1)" font-family="Liberation Sans" font-size="18.5" font-weight="bold" fill="#1e1e1e" stroke="#1e1e1e" stroke-width="0.45">SO</text>
<text transform="translate(443.92,1044.20) scale(1.2862,1)" font-family="Liberation Sans" font-size="10.5" font-weight="bold" fill="#1e1e1e" stroke="#1e1e1e" stroke-width="0.45">4</text>
<text transform="translate(457.73,1035.00) scale(1.1614,1)" font-family="Liberation Sans" font-size="18.5" font-weight="bold" fill="#1e1e1e" stroke="#1e1e1e" stroke-width="0.45">concentration= 1 M</text>
<text transform="translate(387.65,1082.90) scale(1.3012,1)" font-family="Liberation Sans" font-size="18.5" font-weight="normal" fill="#1e1e1e" stroke="#1e1e1e" stroke-width="0.2">H</text>
<text transform="translate(403.63,1091.80) scale(1.5546,1)" font-family="Liberation Sans" font-size="10.5" font-weight="normal" fill="#1e1e1e" stroke="#1e1e1e" stroke-width="0.2">2</text>
<text transform="translate(411.96,1082.90) scale(1.1920,1)" font-family="Liberation Sans" font-size="18.5" font-weight="normal" fill="#1e1e1e" stroke="#1e1e1e" stroke-width="0.2">SO</text>
<text transform="translate(443.63,1091.80) scale(1.2780,1)" font-family="Liberation Sans" font-size="10.5" font-weight="normal" fill="#1e1e1e" stroke="#1e1e1e" stroke-width="0.2">4</text>
<text transform="translate(457.03,1082.90) scale(1.1626,1)" font-family="Liberation Sans" font-size="18.5" font-weight="normal" fill="#1e1e1e" stroke="#1e1e1e" stroke-width="0.2">concentration= 1.5 M</text>
<path d="M76.8 1292.4 H669.5 V1777.0" fill="none" stroke="#2c2c2c" stroke-width="1.7"/>
<path d="M76.8 1292.4 V1777.0 H669.5" fill="none" stroke="#1e1e1e" stroke-width="1.8"/>
<path d="M65.8 1777.00 H76.8 M71.3 1752.77 H76.8 M71.3 1728.54 H76.8 M71.3 1704.31 H76.8 M65.8 1680.08 H76.8 M71.3 1655.85 H76.8 M71.3 1631.62 H76.8 M71.3 1607.39 H76.8 M65.8 1583.16 H76.8 M71.3 1558.93 H76.8 M71.3 1534.70 H76.8 M71.3 1510.47 H76.8 M65.8 1486.24 H76.8 M71.3 1462.01 H76.8 M71.3 1437.78 H76.8 M71.3 1413.55 H76.8 M65.8 1389.32 H76.8 M71.3 1365.09 H76.8 M71.3 1340.86 H76.8 M71.3 1316.63 H76.8 M65.8 1292.40 H76.8 M76.80 1777.0 V1787.0 M95.92 1777.0 V1782.0 M115.04 1777.0 V1782.0 M134.16 1777.0 V1782.0 M153.28 1777.0 V1782.0 M172.40 1777.0 V1787.0 M191.52 1777.0 V1782.0 M210.64 1777.0 V1782.0 M229.76 1777.0 V1782.0 M248.88 1777.0 V1782.0 M268.00 1777.0 V1787.0 M287.12 1777.0 V1782.0 M306.24 1777.0 V1782.0 M325.36 1777.0 V1782.0 M344.48 1777.0 V1782.0 M363.60 1777.0 V1787.0 M382.72 1777.0 V1782.0 M401.84 1777.0 V1782.0 M420.96 1777.0 V1782.0 M440.08 1777.0 V1782.0 M459.20 1777.0 V1787.0 M478.32 1777.0 V1782.0 M497.44 1777.0 V1782.0 M516.56 1777.0 V1782.0 M535.68 1777.0 V1782.0 M554.80 1777.0 V1787.0 M573.92 1777.0 V1782.0 M593.04 1777.0 V1782.0 M612.16 1777.0 V1782.0 M631.28 1777.0 V1782.0 M650.40 1777.0 V1787.0 M669.52 1777.0 V1782.0" fill="none" stroke="#1e1e1e" stroke-width="1.6"/>
<text transform="translate(61.60,1783.60) scale(1.15,1)" font-family="Liberation Sans" font-size="18.0" font-weight="normal" text-anchor="end" fill="#1e1e1e" stroke="#1e1e1e" stroke-width="0.2">0</text>
<text transform="translate(61.60,1686.68) scale(1.15,1)" font-family="Liberation Sans" font-size="18.0" font-weight="normal" text-anchor="end" fill="#1e1e1e" stroke="#1e1e1e" stroke-width="0.2">20</text>
<text transform="translate(61.60,1589.76) scale(1.15,1)" font-family="Liberation Sans" font-size="18.0" font-weight="normal" text-anchor="end" fill="#1e1e1e" stroke="#1e1e1e" stroke-width="0.2">40</text>
<text transform="translate(61.60,1492.84) scale(1.15,1)" font-family="Liberation Sans" font-size="18.0" font-weight="normal" text-anchor="end" fill="#1e1e1e" stroke="#1e1e1e" stroke-width="0.2">60</text>
<text transform="translate(61.60,1395.92) scale(1.15,1)" font-family="Liberation Sans" font-size="18.0" font-weight="normal" text-anchor="end" fill="#1e1e1e" stroke="#1e1e1e" stroke-width="0.2">80</text>
<text transform="translate(61.60,1299.00) scale(1.15,1)" font-family="Liberation Sans" font-size="18.0" font-weight="normal" text-anchor="end" fill="#1e1e1e" stroke="#1e1e1e" stroke-width="0.2">100</text>
<text transform="translate(76.80,1810.80) scale(1.15,1)" font-family="Liberation Sans" font-size="18.0" font-weight="normal" text-anchor="middle" fill="#1e1e1e" stroke="#1e1e1e" stroke-width="0.2">0</text>
<text transform="translate(172.40,1810.80) scale(1.15,1)" font-family="Liberation Sans" font-size="18.0" font-weight="normal" text-anchor="middle" fill="#1e1e1e" stroke="#1e1e1e" stroke-width="0.2">0.5</text>
<text transform="translate(268.00,1810.80) scale(1.15,1)" font-family="Liberation Sans" font-size="18.0" font-weight="normal" text-anchor="middle" fill="#1e1e1e" stroke="#1e1e1e" stroke-width="0.2">1</text>
<text transform="translate(363.60,1810.80) scale(1.15,1)" font-family="Liberation Sans" font-size="18.0" font-weight="normal" text-anchor="middle" fill="#1e1e1e" stroke="#1e1e1e" stroke-width="0.2">1.5</text>
<text transform="translate(459.20,1810.80) scale(1.15,1)" font-family="Liberation Sans" font-size="18.0" font-weight="normal" text-anchor="middle" fill="#1e1e1e" stroke="#1e1e1e" stroke-width="0.2">2</text>
<text transform="translate(554.80,1810.80) scale(1.15,1)" font-family="Liberation Sans" font-size="18.0" font-weight="normal" text-anchor="middle" fill="#1e1e1e" stroke="#1e1e1e" stroke-width="0.2">2.5</text>
<text transform="translate(650.40,1810.80) scale(1.15,1)" font-family="Liberation Sans" font-size="18.0" font-weight="normal" text-anchor="middle" fill="#1e1e1e" stroke="#1e1e1e" stroke-width="0.2">3</text>
<text transform="translate(373.15,1844.90) scale(1.15,1)" font-family="Liberation Sans" font-size="18.0" font-weight="normal" text-anchor="middle" fill="#1e1e1e" stroke="#1e1e1e" stroke-width="0.2">Time (hour)</text>
<text transform="translate(20.6,1534.7) scale(1.19,1) rotate(-90)" font-family="Liberation Sans" font-size="17.8" text-anchor="middle" fill="#1e1e1e" stroke="#1e1e1e" stroke-width="0.2">Leaching percent of Ni</text>
<text x="98.3" y="1341.5" font-family="Liberation Serif" font-weight="bold" font-size="35" fill="#000">c</text>
<path d="M76.8 1777.0 L77.8 1774.4 L78.8 1772.2 L79.8 1770.0 L80.8 1767.8 L81.8 1765.7 L82.8 1763.5 L83.8 1761.4 L84.8 1759.4 L85.8 1757.3 L86.8 1755.3 L87.8 1753.3 L88.8 1751.3 L89.8 1749.4 L90.8 1747.4 L91.8 1745.5 L92.8 1743.6 L93.8 1741.7 L94.8 1739.9 L95.8 1738.0 L96.8 1736.2 L97.8 1734.4 L98.8 1732.6 L99.8 1730.9 L100.8 1729.1 L101.8 1727.4 L102.8 1725.6 L103.8 1723.9 L104.8 1722.2 L105.8 1720.6 L106.8 1718.9 L107.8 1717.3 L108.8 1715.6 L109.8 1714.0 L110.8 1712.4 L111.8 1710.8 L112.8 1709.2 L113.8 1707.6 L114.8 1706.0 L115.8 1704.4 L116.8 1702.9 L117.8 1701.3 L118.8 1699.8 L119.8 1698.2 L120.8 1696.7 L121.8 1695.2 L122.8 1693.7 L123.8 1692.1 L124.8 1690.6 L125.8 1689.1 L126.8 1687.6 L127.8 1686.1 L128.8 1684.6 L129.8 1683.1 L130.8 1681.6 L131.8 1680.1 L132.8 1678.6 L133.8 1677.1 L134.8 1675.6 L135.8 1674.1 L136.8 1672.6 L137.8 1671.1 L138.8 1669.6 L139.8 1668.1 L140.8 1666.6 L141.8 1665.0 L142.8 1663.5 L143.8 1662.0 L144.8 1660.4 L145.8 1658.9 L146.8 1657.3 L147.8 1655.7 L148.8 1654.2 L149.8 1652.6 L150.8 1651.0 L151.8 1649.4 L152.8 1647.8 L153.8 1646.1 L154.8 1644.5 L155.8 1642.9 L156.8 1641.2 L157.8 1639.5 L158.8 1637.8 L159.8 1636.1 L160.8 1634.4 L161.8 1632.7 L162.8 1630.9 L163.8 1629.1 L164.8 1627.3 L165.8 1625.5 L166.8 1623.7 L167.8 1621.9 L168.8 1620.0 L169.8 1618.1 L170.8 1616.2 L171.8 1614.3 L172.8 1612.4 L173.8 1610.4 L174.8 1608.4 L175.8 1606.4 L176.8 1604.4 L177.8 1602.4 L178.8 1600.4 L179.8 1598.4 L180.8 1596.3 L181.8 1594.3 L182.8 1592.2 L183.8 1590.1 L184.8 1588.1 L185.8 1586.0 L186.8 1583.9 L187.8 1581.9 L188.8 1579.8 L189.8 1577.7 L190.8 1575.6 L191.8 1573.5 L192.8 1571.5 L193.8 1569.4 L194.8 1567.4 L195.8 1565.3 L196.8 1563.3 L197.8 1561.2 L198.8 1559.2 L199.8 1557.2 L200.8 1555.2 L201.8 1553.2 L202.8 1551.2 L203.8 1549.3 L204.8 1547.3 L205.8 1545.4 L206.8 1543.5 L207.8 1541.6 L208.8 1539.8 L209.8 1537.9 L210.8 1536.1 L211.8 1534.3 L212.8 1532.5 L213.8 1530.8 L214.8 1529.1 L215.8 1527.4 L216.8 1525.7 L217.8 1524.1 L218.8 1522.5 L219.8 1520.9 L220.8 1519.3 L221.8 1517.8 L222.8 1516.3 L223.8 1514.8 L224.8 1513.3 L225.8 1511.9 L226.8 1510.5 L227.8 1509.1 L228.8 1507.7 L229.8 1506.3 L230.8 1505.0 L231.8 1503.7 L232.8 1502.4 L233.8 1501.1 L234.8 1499.9 L235.8 1498.6 L236.8 1497.4 L237.8 1496.2 L238.8 1495.0 L239.8 1493.9 L240.8 1492.7 L241.8 1491.6 L242.8 1490.5 L243.8 1489.4 L244.8 1488.3 L245.8 1487.2 L246.8 1486.1 L247.8 1485.1 L248.8 1484.1 L249.8 1483.1 L250.8 1482.0 L251.8 1481.1 L252.8 1480.1 L253.8 1479.1 L254.8 1478.1 L255.8 1477.2 L256.8 1476.3 L257.8 1475.3 L258.8 1474.4 L259.8 1473.5 L260.8 1472.6 L261.8 1471.7 L262.8 1470.8 L263.8 1470.0 L264.8 1469.1 L265.8 1468.2 L266.8 1467.4 L267.8 1466.5 L268.8 1465.7 L269.8 1464.8 L270.8 1464.0 L271.8 1463.2 L272.8 1462.3 L273.8 1461.5 L274.8 1460.7 L275.8 1459.9 L276.8 1459.1 L277.8 1458.3 L278.8 1457.5 L279.8 1456.7 L280.8 1455.9 L281.8 1455.1 L282.8 1454.4 L283.8 1453.6 L284.8 1452.8 L285.8 1452.1 L286.8 1451.3 L287.8 1450.6 L288.8 1449.8 L289.8 1449.1 L290.8 1448.3 L291.8 1447.6 L292.8 1446.9 L293.8 1446.1 L294.8 1445.4 L295.8 1444.7 L296.8 1444.0 L297.8 1443.3 L298.8 1442.6 L299.8 1441.9 L300.8 1441.2 L301.8 1440.5 L302.8 1439.8 L303.8 1439.2 L304.8 1438.5 L305.8 1437.8 L306.8 1437.1 L307.8 1436.5 L308.8 1435.8 L309.8 1435.2 L310.8 1434.5 L311.8 1433.9 L312.8 1433.2 L313.8 1432.6 L314.8 1431.9 L315.8 1431.3 L316.8 1430.7 L317.8 1430.0 L318.8 1429.4 L319.8 1428.8 L320.8 1428.2 L321.8 1427.6 L322.8 1427.0 L323.8 1426.3 L324.8 1425.7 L325.8 1425.1 L326.8 1424.5 L327.8 1423.9 L328.8 1423.4 L329.8 1422.8 L330.8 1422.2 L331.8 1421.6 L332.8 1421.0 L333.8 1420.5 L334.8 1419.9 L335.8 1419.3 L336.8 1418.7 L337.8 1418.2 L338.8 1417.6 L339.8 1417.1 L340.8 1416.5 L341.8 1416.0 L342.8 1415.4 L343.8 1414.9 L344.8 1414.3 L345.8 1413.8 L346.8 1413.2 L347.8 1412.7 L348.8 1412.1 L349.8 1411.6 L350.8 1411.1 L351.8 1410.6 L352.8 1410.0 L353.8 1409.5 L354.8 1409.0 L355.8 1408.5 L356.8 1407.9 L357.8 1407.4 L358.8 1406.9 L359.8 1406.4 L360.8 1405.9 L361.8 1405.4 L362.8 1404.9 L363.8 1404.4 L364.8 1403.9 L365.8 1403.4 L366.8 1402.9 L367.8 1402.4 L368.8 1401.9 L369.8 1401.4 L370.8 1400.9 L371.8 1400.4 L372.8 1399.9 L373.8 1399.4 L374.8 1398.9 L375.8 1398.4 L376.8 1398.0 L377.8 1397.5 L378.8 1397.0 L379.8 1396.5 L380.8 1396.0 L381.8 1395.6 L382.8 1395.1 L383.8 1394.6 L384.8 1394.2 L385.8 1393.7 L386.8 1393.2 L387.8 1392.8 L388.8 1392.3 L389.8 1391.9 L390.8 1391.4 L391.8 1390.9 L392.8 1390.5 L393.8 1390.0 L394.8 1389.6 L395.8 1389.1 L396.8 1388.7 L397.8 1388.3 L398.8 1387.8 L399.8 1387.4 L400.8 1386.9 L401.8 1386.5 L402.8 1386.1 L403.8 1385.6 L404.8 1385.2 L405.8 1384.8 L406.8 1384.4 L407.8 1384.0 L408.8 1383.5 L409.8 1383.1 L410.8 1382.7 L411.8 1382.3 L412.8 1381.9 L413.8 1381.5 L414.8 1381.1 L415.8 1380.7 L416.8 1380.3 L417.8 1379.9 L418.8 1379.5 L419.8 1379.1 L420.8 1378.7 L421.8 1378.3 L422.8 1377.9 L423.8 1377.6 L424.8 1377.2 L425.8 1376.8 L426.8 1376.4 L427.8 1376.1 L428.8 1375.7 L429.8 1375.3 L430.8 1375.0 L431.8 1374.6 L432.8 1374.3 L433.8 1373.9 L434.8 1373.6 L435.8 1373.2 L436.8 1372.9 L437.8 1372.5 L438.8 1372.2 L439.8 1371.8 L440.8 1371.5 L441.8 1371.2 L442.8 1370.8 L443.8 1370.5 L444.8 1370.2 L445.8 1369.9 L446.8 1369.6 L447.8 1369.3 L448.8 1368.9 L449.8 1368.6 L450.8 1368.3 L451.8 1368.0 L452.8 1367.7 L453.8 1367.4 L454.8 1367.1 L455.8 1366.9 L456.8 1366.6 L457.8 1366.3 L458.8 1366.0 L459.8 1365.7 L460.8 1365.5 L461.8 1365.2 L462.8 1364.9 L463.8 1364.7 L464.8 1364.4 L465.8 1364.1 L466.8 1363.9 L467.8 1363.6 L468.8 1363.4 L469.8 1363.2 L470.8 1362.9 L471.8 1362.7 L472.8 1362.4 L473.8 1362.2 L474.8 1362.0 L475.8 1361.7 L476.8 1361.5 L477.8 1361.3 L478.8 1361.1 L479.8 1360.9 L480.8 1360.6 L481.8 1360.4 L482.8 1360.2 L483.8 1360.0 L484.8 1359.8 L485.8 1359.6 L486.8 1359.4 L487.8 1359.2 L488.8 1359.0 L489.8 1358.8 L490.8 1358.6 L491.8 1358.5 L492.8 1358.3 L493.8 1358.1 L494.8 1357.9 L495.8 1357.7 L496.8 1357.6 L497.8 1357.4 L498.8 1357.2 L499.8 1357.1 L500.8 1356.9 L501.8 1356.7 L502.8 1356.6 L503.8 1356.4 L504.8 1356.2 L505.8 1356.1 L506.8 1355.9 L507.8 1355.8 L508.8 1355.6 L509.8 1355.5 L510.8 1355.3 L511.8 1355.2 L512.8 1355.0 L513.8 1354.9 L514.8 1354.8 L515.8 1354.6 L516.8 1354.5 L517.8 1354.4 L518.8 1354.2 L519.8 1354.1 L520.8 1354.0 L521.8 1353.8 L522.8 1353.7 L523.8 1353.6 L524.8 1353.5 L525.8 1353.3 L526.8 1353.2 L527.8 1353.1 L528.8 1353.0 L529.8 1352.9 L530.8 1352.8 L531.8 1352.6 L532.8 1352.5 L533.8 1352.4 L534.8 1352.3 L535.8 1352.2 L536.8 1352.1 L537.8 1352.0 L538.8 1351.9 L539.8 1351.8 L540.8 1351.7 L541.8 1351.6 L542.8 1351.5 L543.8 1351.4 L544.8 1351.3 L545.8 1351.2 L546.8 1351.1 L547.8 1351.0 L548.8 1350.9 L549.8 1350.8 L550.8 1350.7 L551.8 1350.6 L552.8 1350.5 L553.8 1350.4 L554.8 1350.3 L555.8 1350.2 L556.8 1350.1 L557.8 1350.0 L558.8 1349.9 L559.8 1349.9 L560.8 1349.8 L561.8 1349.7 L562.8 1349.6 L563.8 1349.5 L564.8 1349.4 L565.8 1349.3 L566.8 1349.2 L567.8 1349.2 L568.8 1349.1 L569.8 1349.0 L570.8 1348.9 L571.8 1348.8 L572.8 1348.7 L573.8 1348.6 L574.8 1348.6 L575.8 1348.5 L576.8 1348.4 L577.8 1348.3 L578.8 1348.2 L579.8 1348.1 L580.8 1348.0 L581.8 1348.0 L582.8 1347.9 L583.8 1347.8 L584.8 1347.7 L585.8 1347.6 L586.8 1347.5 L587.8 1347.5 L588.8 1347.4 L589.8 1347.3 L590.8 1347.2 L591.8 1347.1 L592.8 1347.0 L593.8 1346.9 L594.8 1346.8 L595.8 1346.7 L596.8 1346.7 L597.8 1346.6 L598.8 1346.5 L599.8 1346.4 L600.8 1346.3 L601.8 1346.2 L602.8 1346.1 L603.8 1346.0 L604.8 1345.9 L605.8 1345.8 L606.8 1345.7 L607.8 1345.6 L608.8 1345.5 L609.8 1345.4 L610.8 1345.3 L611.8 1345.2 L612.8 1345.1 L613.8 1345.0 L614.8 1344.9 L615.8 1344.8 L616.8 1344.7 L617.8 1344.6 L618.8 1344.5 L619.8 1344.4 L620.8 1344.3 L621.8 1344.2 L622.8 1344.1 L623.8 1343.9 L624.8 1343.8 L625.8 1343.7 L626.8 1343.6 L627.8 1343.5 L628.8 1343.4 L629.8 1343.2 L630.8 1343.1 L631.8 1343.0 L632.8 1342.9 L633.8 1342.7 L634.8 1342.6 L635.8 1342.5 L636.8 1342.3 L637.8 1342.2 L638.8 1342.1 L639.8 1341.9 L640.8 1341.8 L641.8 1341.7 L642.8 1341.5 L643.8 1341.4 L644.8 1341.3 L645.8 1341.3 L646.8 1341.3 L647.8 1341.3 L648.8 1341.3 L649.8 1341.3" fill="none" stroke="#000" stroke-width="2.9" stroke-linecap="round" stroke-dasharray="5.5 10.0"/>
<path d="M76.8 1777.0 L77.8 1773.7 L78.8 1770.1 L79.8 1766.5 L80.8 1762.8 L81.8 1759.3 L82.8 1755.7 L83.8 1752.2 L84.8 1748.7 L85.8 1745.3 L86.8 1741.8 L87.8 1738.5 L88.8 1735.1 L89.8 1731.8 L90.8 1728.5 L91.8 1725.2 L92.8 1722.0 L93.8 1718.8 L94.8 1715.7 L95.8 1712.6 L96.8 1709.5 L97.8 1706.5 L98.8 1703.5 L99.8 1700.5 L100.8 1697.6 L101.8 1694.8 L102.8 1691.9 L103.8 1689.1 L104.8 1686.4 L105.8 1683.7 L106.8 1681.0 L107.8 1678.4 L108.8 1675.9 L109.8 1673.3 L110.8 1670.9 L111.8 1668.4 L112.8 1666.0 L113.8 1663.7 L114.8 1661.3 L115.8 1659.0 L116.8 1656.8 L117.8 1654.6 L118.8 1652.4 L119.8 1650.2 L120.8 1648.1 L121.8 1646.0 L122.8 1644.0 L123.8 1641.9 L124.8 1639.9 L125.8 1637.9 L126.8 1635.9 L127.8 1634.0 L128.8 1632.1 L129.8 1630.2 L130.8 1628.3 L131.8 1626.4 L132.8 1624.6 L133.8 1622.7 L134.8 1620.9 L135.8 1619.1 L136.8 1617.3 L137.8 1615.5 L138.8 1613.7 L139.8 1612.0 L140.8 1610.2 L141.8 1608.4 L142.8 1606.7 L143.8 1604.9 L144.8 1603.2 L145.8 1601.4 L146.8 1599.7 L147.8 1597.9 L148.8 1596.2 L149.8 1594.4 L150.8 1592.6 L151.8 1590.9 L152.8 1589.1 L153.8 1587.3 L154.8 1585.5 L155.8 1583.7 L156.8 1581.9 L157.8 1580.0 L158.8 1578.2 L159.8 1576.3 L160.8 1574.4 L161.8 1572.5 L162.8 1570.6 L163.8 1568.7 L164.8 1566.7 L165.8 1564.7 L166.8 1562.7 L167.8 1560.7 L168.8 1558.7 L169.8 1556.7 L170.8 1554.6 L171.8 1552.6 L172.8 1550.5 L173.8 1548.4 L174.8 1546.2 L175.8 1544.1 L176.8 1542.0 L177.8 1539.8 L178.8 1537.6 L179.8 1535.4 L180.8 1533.2 L181.8 1531.0 L182.8 1528.7 L183.8 1526.4 L184.8 1524.2 L185.8 1521.9 L186.8 1519.6 L187.8 1517.2 L188.8 1514.9 L189.8 1512.6 L190.8 1510.2 L191.8 1507.8 L192.8 1505.4 L193.8 1503.0 L194.8 1500.5 L195.8 1498.1 L196.8 1495.6 L197.8 1493.2 L198.8 1490.7 L199.8 1488.2 L200.8 1485.7 L201.8 1483.1 L202.8 1480.6 L203.8 1478.0 L204.8 1475.4 L205.8 1472.9 L206.8 1470.2 L207.8 1467.6 L208.8 1465.0 L209.8 1462.4 L210.8 1459.7 L211.8 1457.0 L212.8 1454.4 L213.8 1451.7 L214.8 1449.0 L215.8 1446.3 L216.8 1443.6 L217.8 1440.8 L218.8 1438.1 L219.8 1435.4 L220.8 1432.6 L221.8 1429.9 L222.8 1427.1 L223.8 1424.3 L224.8 1421.6 L225.8 1418.8 L226.8 1416.0 L227.8 1413.2 L228.8 1410.4 L229.8 1407.6 L230.8 1404.8 L231.8 1402.0 L232.8 1399.2 L233.8 1396.4 L234.8 1393.6 L235.8 1390.8 L236.8 1388.0 L237.8 1385.2 L238.8 1382.4 L239.8 1379.6 L240.8 1376.8 L241.8 1374.0 L242.8 1371.2 L243.8 1368.4 L244.8 1365.6 L245.8 1362.9 L246.8 1360.1 L247.8 1357.4 L248.8 1354.8 L249.8 1352.1 L250.8 1349.5 L251.8 1347.0 L252.8 1344.5 L253.8 1342.1 L254.8 1339.7 L255.8 1337.3 L256.8 1335.1 L257.8 1332.9 L258.8 1330.8 L259.8 1328.8 L260.8 1326.9 L261.8 1325.0 L262.8 1323.3 L263.8 1321.7 L264.8 1320.1 L265.8 1318.7 L266.8 1317.3 L267.8 1316.0 L268.8 1314.8 L269.8 1313.6 L270.8 1312.6 L271.8 1311.6 L272.8 1310.7 L273.8 1309.8 L274.8 1309.0 L275.8 1308.2 L276.8 1307.5 L277.8 1306.9 L278.8 1306.3 L279.8 1305.7 L280.8 1305.2 L281.8 1304.7 L282.8 1304.2 L283.8 1303.8 L284.8 1303.4 L285.8 1303.0 L286.8 1302.6 L287.8 1302.3 L288.8 1301.9 L289.8 1301.6 L290.8 1301.3 L291.8 1301.0 L292.8 1300.6 L293.8 1300.3 L294.8 1300.0 L295.8 1299.7 L296.8 1299.5 L297.8 1299.2 L298.8 1298.9 L299.8 1298.6 L300.8 1298.4 L301.8 1298.1 L302.8 1297.9 L303.8 1297.7 L304.8 1297.4 L305.8 1297.2 L306.8 1297.0 L307.8 1296.8 L308.8 1296.6 L309.8 1296.4 L310.8 1296.2 L311.8 1296.0 L312.8 1295.8 L313.8 1295.6 L314.8 1295.5 L315.8 1295.3 L316.8 1295.2 L317.8 1295.0 L318.8 1294.9 L319.8 1294.7 L320.8 1294.6 L321.8 1294.4 L322.8 1294.3 L323.8 1294.3 L324.8 1294.3 L325.8 1294.3 L326.8 1294.3 L327.8 1294.3 L328.8 1294.3 L329.8 1294.3 L330.8 1294.3 L331.8 1294.3 L332.8 1294.3 L333.8 1294.3 L334.8 1294.3 L335.8 1294.3 L336.8 1294.3 L337.8 1294.3 L338.8 1294.3 L339.8 1294.3 L340.8 1294.3 L341.8 1294.3 L342.8 1294.3 L343.8 1294.3 L344.8 1294.3 L345.8 1294.3 L346.8 1294.3 L347.8 1294.3 L348.8 1294.3 L349.8 1294.3 L350.8 1294.3 L351.8 1294.3 L352.8 1294.3 L353.8 1294.3 L354.8 1294.3 L355.8 1294.3 L356.8 1294.3 L357.8 1294.3 L358.8 1294.3 L359.8 1294.3 L360.8 1294.3 L361.8 1294.3 L362.8 1294.3 L363.8 1294.3 L364.8 1294.3 L365.8 1294.3 L366.8 1294.3 L367.8 1294.3 L368.8 1294.3 L369.8 1294.3 L370.8 1294.3 L371.8 1294.3 L372.8 1294.3 L373.8 1294.3 L374.8 1294.3 L375.8 1294.3 L376.8 1294.3 L377.8 1294.3 L378.8 1294.3 L379.8 1294.3 L380.8 1294.3 L381.8 1294.3 L382.8 1294.3 L383.8 1294.3 L384.8 1294.3 L385.8 1294.3 L386.8 1294.3 L387.8 1294.3 L388.8 1294.3 L389.8 1294.3 L390.8 1294.3 L391.8 1294.3 L392.8 1294.3 L393.8 1294.3 L394.8 1294.3 L395.8 1294.3 L396.8 1294.3 L397.8 1294.3 L398.8 1294.3 L399.8 1294.3 L400.8 1294.3 L401.8 1294.3 L402.8 1294.3 L403.8 1294.3 L404.8 1294.3 L405.8 1294.4 L406.8 1294.4 L407.8 1294.4 L408.8 1294.5 L409.8 1294.5 L410.8 1294.5 L411.8 1294.6 L412.8 1294.6 L413.8 1294.6 L414.8 1294.7 L415.8 1294.7 L416.8 1294.7 L417.8 1294.8 L418.8 1294.8 L419.8 1294.8 L420.8 1294.8 L421.8 1294.9 L422.8 1294.9 L423.8 1294.9 L424.8 1294.9 L425.8 1294.9 L426.8 1295.0 L427.8 1295.0 L428.8 1295.0 L429.8 1295.0 L430.8 1295.0 L431.8 1295.0 L432.8 1295.1 L433.8 1295.1 L434.8 1295.1 L435.8 1295.1 L436.8 1295.1 L437.8 1295.1 L438.8 1295.1 L439.8 1295.1 L440.8 1295.2 L441.8 1295.2 L442.8 1295.2 L443.8 1295.2 L444.8 1295.2 L445.8 1295.2 L446.8 1295.2 L447.8 1295.2 L448.8 1295.2 L449.8 1295.2 L450.8 1295.2 L451.8 1295.2 L452.8 1295.2 L453.8 1295.2 L454.8 1295.2 L455.8 1295.2 L456.8 1295.2 L457.8 1295.2 L458.8 1295.2 L459.8 1295.2 L460.8 1295.2 L461.8 1295.2 L462.8 1295.2 L463.8 1295.2 L464.8 1295.2 L465.8 1295.2 L466.8 1295.2 L467.8 1295.2 L468.8 1295.2 L469.8 1295.2 L470.8 1295.2 L471.8 1295.2 L472.8 1295.2 L473.8 1295.1 L474.8 1295.1 L475.8 1295.1 L476.8 1295.1 L477.8 1295.1 L478.8 1295.1 L479.8 1295.1 L480.8 1295.1 L481.8 1295.1 L482.8 1295.1 L483.8 1295.1 L484.8 1295.0 L485.8 1295.0 L486.8 1295.0 L487.8 1295.0 L488.8 1295.0 L489.8 1295.0 L490.8 1295.0 L491.8 1295.0 L492.8 1294.9 L493.8 1294.9 L494.8 1294.9 L495.8 1294.9 L496.8 1294.9 L497.8 1294.9 L498.8 1294.9 L499.8 1294.8 L500.8 1294.8 L501.8 1294.8 L502.8 1294.8 L503.8 1294.8 L504.8 1294.8 L505.8 1294.7 L506.8 1294.7 L507.8 1294.7 L508.8 1294.7 L509.8 1294.7 L510.8 1294.7 L511.8 1294.6 L512.8 1294.6 L513.8 1294.6 L514.8 1294.6 L515.8 1294.6 L516.8 1294.6 L517.8 1294.5 L518.8 1294.5 L519.8 1294.5 L520.8 1294.5 L521.8 1294.5 L522.8 1294.5 L523.8 1294.4 L524.8 1294.4 L525.8 1294.4 L526.8 1294.4 L527.8 1294.4 L528.8 1294.4 L529.8 1294.3 L530.8 1294.3 L531.8 1294.3 L532.8 1294.3 L533.8 1294.3 L534.8 1294.3 L535.8 1294.3 L536.8 1294.3 L537.8 1294.3 L538.8 1294.3 L539.8 1294.3 L540.8 1294.3 L541.8 1294.3 L542.8 1294.3 L543.8 1294.3 L544.8 1294.3 L545.8 1294.3 L546.8 1294.3 L547.8 1294.3 L548.8 1294.3 L549.8 1294.3 L550.8 1294.3 L551.8 1294.3 L552.8 1294.3 L553.8 1294.3 L554.8 1294.3 L555.8 1294.3 L556.8 1294.3 L557.8 1294.3 L558.8 1294.3 L559.8 1294.3 L560.8 1294.3 L561.8 1294.3 L562.8 1294.3 L563.8 1294.3 L564.8 1294.3 L565.8 1294.3 L566.8 1294.3 L567.8 1294.3 L568.8 1294.3 L569.8 1294.3 L570.8 1294.3 L571.8 1294.3 L572.8 1294.3 L573.8 1294.3 L574.8 1294.3 L575.8 1294.3 L576.8 1294.3 L577.8 1294.3 L578.8 1294.3 L579.8 1294.3 L580.8 1294.3 L581.8 1294.3 L582.8 1294.3 L583.8 1294.3 L584.8 1294.3 L585.8 1294.3 L586.8 1294.3 L587.8 1294.3 L588.8 1294.3 L589.8 1294.3 L590.8 1294.3 L591.8 1294.3 L592.8 1294.3 L593.8 1294.3 L594.8 1294.3 L595.8 1294.3 L596.8 1294.3 L597.8 1294.3 L598.8 1294.3 L599.8 1294.3 L600.8 1294.3 L601.8 1294.3 L602.8 1294.3 L603.8 1294.3 L604.8 1294.3 L605.8 1294.3 L606.8 1294.3 L607.8 1294.3 L608.8 1294.3 L609.8 1294.3 L610.8 1294.3 L611.8 1294.3 L612.8 1294.3 L613.8 1294.3 L614.8 1294.3 L615.8 1294.3 L616.8 1294.3 L617.8 1294.3 L618.8 1294.3 L619.8 1294.3 L620.8 1294.3 L621.8 1294.3 L622.8 1294.3 L623.8 1294.3 L624.8 1294.3 L625.8 1294.3 L626.8 1294.3 L627.8 1294.3 L628.8 1294.3 L629.8 1294.3 L630.8 1294.4 L631.8 1294.4 L632.8 1294.4 L633.8 1294.4 L634.8 1294.5 L635.8 1294.5 L636.8 1294.6 L637.8 1294.6 L638.8 1294.6 L639.8 1294.7 L640.8 1294.7 L641.8 1294.7 L642.8 1294.8 L643.8 1294.8 L644.8 1294.9 L645.8 1294.9 L646.8 1295.0 L647.8 1295.0 L648.8 1295.1 L649.8 1295.1" fill="none" stroke="#000" stroke-width="3.0"/>
<path d="M76.8 1777.0 L77.8 1771.1 L78.8 1765.9 L79.8 1760.7 L80.8 1755.6 L81.8 1750.6 L82.8 1745.6 L83.8 1740.7 L84.8 1735.8 L85.8 1731.0 L86.8 1726.4 L87.8 1721.8 L88.8 1717.3 L89.8 1712.9 L90.8 1708.6 L91.8 1704.5 L92.8 1700.4 L93.8 1696.5 L94.8 1692.6 L95.8 1688.9 L96.8 1685.2 L97.8 1681.7 L98.8 1678.2 L99.8 1674.8 L100.8 1671.5 L101.8 1668.2 L102.8 1665.1 L103.8 1662.0 L104.8 1659.0 L105.8 1656.0 L106.8 1653.1 L107.8 1650.3 L108.8 1647.5 L109.8 1644.8 L110.8 1642.2 L111.8 1639.6 L112.8 1637.1 L113.8 1634.6 L114.8 1632.2 L115.8 1629.8 L116.8 1627.5 L117.8 1625.2 L118.8 1623.0 L119.8 1620.8 L120.8 1618.6 L121.8 1616.5 L122.8 1614.5 L123.8 1612.4 L124.8 1610.4 L125.8 1608.4 L126.8 1606.5 L127.8 1604.5 L128.8 1602.6 L129.8 1600.8 L130.8 1598.9 L131.8 1597.1 L132.8 1595.3 L133.8 1593.4 L134.8 1591.7 L135.8 1589.9 L136.8 1588.1 L137.8 1586.4 L138.8 1584.6 L139.8 1582.9 L140.8 1581.1 L141.8 1579.4 L142.8 1577.6 L143.8 1575.9 L144.8 1574.2 L145.8 1572.4 L146.8 1570.7 L147.8 1569.0 L148.8 1567.2 L149.8 1565.5 L150.8 1563.7 L151.8 1562.0 L152.8 1560.2 L153.8 1558.5 L154.8 1556.7 L155.8 1554.9 L156.8 1553.1 L157.8 1551.3 L158.8 1549.5 L159.8 1547.7 L160.8 1545.9 L161.8 1544.1 L162.8 1542.2 L163.8 1540.3 L164.8 1538.4 L165.8 1536.6 L166.8 1534.6 L167.8 1532.7 L168.8 1530.8 L169.8 1528.8 L170.8 1526.8 L171.8 1524.8 L172.8 1522.8 L173.8 1520.7 L174.8 1518.6 L175.8 1516.5 L176.8 1514.4 L177.8 1512.3 L178.8 1510.1 L179.8 1507.9 L180.8 1505.7 L181.8 1503.4 L182.8 1501.1 L183.8 1498.9 L184.8 1496.5 L185.8 1494.2 L186.8 1491.8 L187.8 1489.5 L188.8 1487.1 L189.8 1484.7 L190.8 1482.3 L191.8 1479.8 L192.8 1477.4 L193.8 1474.9 L194.8 1472.5 L195.8 1470.0 L196.8 1467.5 L197.8 1465.0 L198.8 1462.5 L199.8 1460.0 L200.8 1457.5 L201.8 1455.0 L202.8 1452.5 L203.8 1449.9 L204.8 1447.4 L205.8 1444.9 L206.8 1442.4 L207.8 1439.9 L208.8 1437.4 L209.8 1434.9 L210.8 1432.4 L211.8 1429.9 L212.8 1427.4 L213.8 1424.9 L214.8 1422.4 L215.8 1419.9 L216.8 1417.4 L217.8 1414.9 L218.8 1412.4 L219.8 1409.8 L220.8 1407.3 L221.8 1404.7 L222.8 1402.1 L223.8 1399.4 L224.8 1396.7 L225.8 1394.0 L226.8 1391.3 L227.8 1388.6 L228.8 1385.8 L229.8 1383.0 L230.8 1380.2 L231.8 1377.4 L232.8 1374.7 L233.8 1371.9 L234.8 1369.2 L235.8 1366.4 L236.8 1363.8 L237.8 1361.1 L238.8 1358.5 L239.8 1356.0 L240.8 1353.5 L241.8 1351.1 L242.8 1348.7 L243.8 1346.5 L244.8 1344.2 L245.8 1342.1 L246.8 1340.0 L247.8 1338.0 L248.8 1336.0 L249.8 1334.1 L250.8 1332.3 L251.8 1330.5 L252.8 1328.8 L253.8 1327.1 L254.8 1325.5 L255.8 1324.0 L256.8 1322.5 L257.8 1321.1 L258.8 1319.7 L259.8 1318.4 L260.8 1317.1 L261.8 1315.9 L262.8 1314.7 L263.8 1313.6 L264.8 1312.5 L265.8 1311.5 L266.8 1310.5 L267.8 1309.6 L268.8 1308.7 L269.8 1307.9 L270.8 1307.0 L271.8 1306.3 L272.8 1305.6 L273.8 1304.9 L274.8 1304.2 L275.8 1303.6 L276.8 1303.0 L277.8 1302.5 L278.8 1301.9 L279.8 1301.4 L280.8 1301.0 L281.8 1300.5 L282.8 1300.1 L283.8 1299.7 L284.8 1299.4 L285.8 1299.0 L286.8 1298.7 L287.8 1298.4 L288.8 1298.1 L289.8 1297.8 L290.8 1297.6 L291.8 1297.3 L292.8 1297.1 L293.8 1296.9 L294.8 1296.7 L295.8 1296.5 L296.8 1296.3 L297.8 1296.1 L298.8 1295.9 L299.8 1295.8 L300.8 1295.6 L301.8 1295.4 L302.8 1295.3 L303.8 1295.1 L304.8 1295.0 L305.8 1294.9 L306.8 1294.7 L307.8 1294.6 L308.8 1294.5 L309.8 1294.4 L310.8 1294.3 L311.8 1294.2 L312.8 1294.1 L313.8 1294.0 L314.8 1293.9 L315.8 1293.9 L316.8 1293.9 L317.8 1293.9 L318.8 1293.9 L319.8 1293.9 L320.8 1293.9 L321.8 1293.9 L322.8 1293.9 L323.8 1293.9 L324.8 1293.9 L325.8 1293.9 L326.8 1293.9 L327.8 1293.9 L328.8 1293.9 L329.8 1293.9 L330.8 1293.9 L331.8 1293.9 L332.8 1293.9 L333.8 1293.9 L334.8 1293.9 L335.8 1293.9 L336.8 1293.9 L337.8 1293.9 L338.8 1293.9 L339.8 1293.9 L340.8 1293.9 L341.8 1293.9 L342.8 1293.9 L343.8 1293.9 L344.8 1293.9 L345.8 1293.9 L346.8 1293.9 L347.8 1293.9 L348.8 1293.9 L349.8 1293.9 L350.8 1293.9 L351.8 1293.9 L352.8 1293.9 L353.8 1293.9 L354.8 1293.9 L355.8 1293.9 L356.8 1293.9 L357.8 1293.9 L358.8 1293.9 L359.8 1293.9 L360.8 1293.9 L361.8 1293.9 L362.8 1293.9 L363.8 1293.9 L364.8 1293.9 L365.8 1293.9 L366.8 1293.9 L367.8 1293.9 L368.8 1293.9 L369.8 1293.9 L370.8 1293.9 L371.8 1293.9 L372.8 1293.9 L373.8 1293.9 L374.8 1293.9 L375.8 1293.9 L376.8 1293.9 L377.8 1293.9 L378.8 1293.9 L379.8 1294.0 L380.8 1294.0 L381.8 1294.0 L382.8 1294.0 L383.8 1294.1 L384.8 1294.1 L385.8 1294.1 L386.8 1294.1 L387.8 1294.1 L388.8 1294.2 L389.8 1294.2 L390.8 1294.2 L391.8 1294.2 L392.8 1294.2 L393.8 1294.2 L394.8 1294.2 L395.8 1294.2 L396.8 1294.3 L397.8 1294.3 L398.8 1294.3 L399.8 1294.3 L400.8 1294.3 L401.8 1294.3 L402.8 1294.3 L403.8 1294.3 L404.8 1294.3 L405.8 1294.3 L406.8 1294.3 L407.8 1294.3 L408.8 1294.3 L409.8 1294.3 L410.8 1294.3 L411.8 1294.3 L412.8 1294.3 L413.8 1294.3 L414.8 1294.3 L415.8 1294.3 L416.8 1294.3 L417.8 1294.3 L418.8 1294.3 L419.8 1294.3 L420.8 1294.3 L421.8 1294.3 L422.8 1294.3 L423.8 1294.3 L424.8 1294.3 L425.8 1294.3 L426.8 1294.2 L427.8 1294.2 L428.8 1294.2 L429.8 1294.2 L430.8 1294.2 L431.8 1294.2 L432.8 1294.2 L433.8 1294.2 L434.8 1294.2 L435.8 1294.2 L436.8 1294.2 L437.8 1294.1 L438.8 1294.1 L439.8 1294.1 L440.8 1294.1 L441.8 1294.1 L442.8 1294.1 L443.8 1294.1 L444.8 1294.1 L445.8 1294.0 L446.8 1294.0 L447.8 1294.0 L448.8 1294.0 L449.8 1294.0 L450.8 1294.0 L451.8 1294.0 L452.8 1294.0 L453.8 1293.9 L454.8 1293.9 L455.8 1293.9 L456.8 1293.9 L457.8 1293.9 L458.8 1293.9 L459.8 1293.9 L460.8 1293.9 L461.8 1293.9 L462.8 1293.9 L463.8 1293.9 L464.8 1293.9 L465.8 1293.9 L466.8 1293.9 L467.8 1293.9 L468.8 1293.9 L469.8 1293.9 L470.8 1293.9 L471.8 1293.9 L472.8 1293.9 L473.8 1293.9 L474.8 1293.9 L475.8 1293.9 L476.8 1293.9 L477.8 1293.9 L478.8 1293.9 L479.8 1293.9 L480.8 1293.9 L481.8 1293.9 L482.8 1293.9 L483.8 1293.9 L484.8 1293.9 L485.8 1293.9 L486.8 1293.9 L487.8 1293.9 L488.8 1293.9 L489.8 1293.9 L490.8 1293.9 L491.8 1293.9 L492.8 1293.9 L493.8 1293.9 L494.8 1293.9 L495.8 1293.9 L496.8 1293.9 L497.8 1293.9 L498.8 1293.9 L499.8 1293.9 L500.8 1293.9 L501.8 1293.9 L502.8 1293.9 L503.8 1293.9 L504.8 1293.9 L505.8 1293.9 L506.8 1293.9 L507.8 1293.9 L508.8 1293.9 L509.8 1293.9 L510.8 1293.9 L511.8 1293.9 L512.8 1293.9 L513.8 1293.9 L514.8 1293.9 L515.8 1293.9 L516.8 1293.9 L517.8 1293.9 L518.8 1293.9 L519.8 1293.9 L520.8 1293.9 L521.8 1293.9 L522.8 1293.9 L523.8 1293.9 L524.8 1293.9 L525.8 1293.9 L526.8 1293.9 L527.8 1293.9 L528.8 1293.9 L529.8 1293.9 L530.8 1293.9 L531.8 1293.9 L532.8 1293.9 L533.8 1293.9 L534.8 1293.9 L535.8 1293.9 L536.8 1293.9 L537.8 1293.9 L538.8 1293.9 L539.8 1293.9 L540.8 1293.9 L541.8 1293.9 L542.8 1293.9 L543.8 1293.9 L544.8 1293.9 L545.8 1293.9 L546.8 1293.9 L547.8 1293.9 L548.8 1293.9 L549.8 1293.9 L550.8 1293.9 L551.8 1293.9 L552.8 1293.9 L553.8 1293.9 L554.8 1293.9 L555.8 1293.9 L556.8 1293.9 L557.8 1293.9 L558.8 1293.9 L559.8 1293.9 L560.8 1293.9 L561.8 1293.9 L562.8 1293.9 L563.8 1293.9 L564.8 1293.9 L565.8 1293.9 L566.8 1293.9 L567.8 1293.9 L568.8 1293.9 L569.8 1293.9 L570.8 1293.9 L571.8 1293.9 L572.8 1293.9 L573.8 1293.9 L574.8 1293.9 L575.8 1293.9 L576.8 1293.9 L577.8 1294.0 L578.8 1294.0 L579.8 1294.0 L580.8 1294.0 L581.8 1294.0 L582.8 1294.0 L583.8 1294.0 L584.8 1294.0 L585.8 1294.0 L586.8 1294.0 L587.8 1294.0 L588.8 1294.0 L589.8 1294.0 L590.8 1294.0 L591.8 1294.0 L592.8 1294.0 L593.8 1294.0 L594.8 1294.0 L595.8 1294.0 L596.8 1294.0 L597.8 1294.0 L598.8 1294.0 L599.8 1294.0 L600.8 1294.0 L601.8 1294.0 L602.8 1294.0 L603.8 1294.0 L604.8 1294.0 L605.8 1294.0 L606.8 1294.0 L607.8 1294.0 L608.8 1294.0 L609.8 1294.0 L610.8 1294.0 L611.8 1294.0 L612.8 1294.0 L613.8 1294.0 L614.8 1294.0 L615.8 1294.0 L616.8 1294.0 L617.8 1294.0 L618.8 1294.0 L619.8 1294.0 L620.8 1294.0 L621.8 1294.0 L622.8 1294.0 L623.8 1294.0 L624.8 1294.0 L625.8 1293.9 L626.8 1293.9 L627.8 1293.9 L628.8 1293.9 L629.8 1293.9 L630.8 1293.9 L631.8 1293.9 L632.8 1293.9 L633.8 1293.9 L634.8 1293.9 L635.8 1293.9 L636.8 1293.9 L637.8 1293.9 L638.8 1293.9 L639.8 1293.9 L640.8 1293.9 L641.8 1293.9 L642.8 1293.9 L643.8 1293.9 L644.8 1293.9 L645.8 1293.9 L646.8 1293.9 L647.8 1293.9 L648.8 1293.9 L649.8 1293.9" fill="none" stroke="#000" stroke-width="3.0" stroke-linecap="round" stroke-dasharray="1.2 6.4"/>
<ellipse cx="76.8" cy="1777.0" rx="4.3" ry="3.6" fill="none" stroke="#8a8a8a" stroke-width="1"/>
<ellipse cx="124.6" cy="1602.1" rx="4.3" ry="3.6" fill="none" stroke="#8a8a8a" stroke-width="1"/>
<ellipse cx="172.4" cy="1533.7" rx="4.3" ry="3.6" fill="none" stroke="#8a8a8a" stroke-width="1"/>
<ellipse cx="220.2" cy="1407.7" rx="4.3" ry="3.6" fill="none" stroke="#8a8a8a" stroke-width="1"/>
<ellipse cx="268.0" cy="1293.9" rx="4.3" ry="3.6" fill="none" stroke="#8a8a8a" stroke-width="1"/>
<ellipse cx="363.6" cy="1293.9" rx="4.3" ry="3.6" fill="none" stroke="#8a8a8a" stroke-width="1"/>
<ellipse cx="459.2" cy="1293.9" rx="4.3" ry="3.6" fill="none" stroke="#8a8a8a" stroke-width="1"/>
<ellipse cx="554.8" cy="1293.9" rx="4.3" ry="3.6" fill="none" stroke="#8a8a8a" stroke-width="1"/>
<ellipse cx="650.4" cy="1293.9" rx="4.3" ry="3.6" fill="none" stroke="#8a8a8a" stroke-width="1"/>
<path d="M71.6 1781.1 L76.8 1772.9 L82.0 1781.1 Z" fill="none" stroke="#808080" stroke-width="1"/>
<path d="M119.4 1693.9 L124.6 1685.7 L129.8 1693.9 Z" fill="none" stroke="#808080" stroke-width="1"/>
<path d="M167.2 1626.0 L172.4 1617.8 L177.6 1626.0 Z" fill="none" stroke="#808080" stroke-width="1"/>
<path d="M215.0 1515.5 L220.2 1507.3 L225.4 1515.5 Z" fill="none" stroke="#808080" stroke-width="1"/>
<path d="M262.8 1471.9 L268.0 1463.7 L273.2 1471.9 Z" fill="none" stroke="#808080" stroke-width="1"/>
<path d="M358.4 1408.4 L363.6 1400.2 L368.8 1408.4 Z" fill="none" stroke="#808080" stroke-width="1"/>
<path d="M454.0 1369.2 L459.2 1361.0 L464.4 1369.2 Z" fill="none" stroke="#808080" stroke-width="1"/>
<path d="M549.6 1355.1 L554.8 1346.9 L560.0 1355.1 Z" fill="none" stroke="#808080" stroke-width="1"/>
<path d="M645.2 1345.4 L650.4 1337.2 L655.6 1345.4 Z" fill="none" stroke="#808080" stroke-width="1"/>
<rect x="71.6" y="1772.9" width="10.4" height="8.2" fill="#000"/>
<rect x="119.4" y="1632.4" width="10.4" height="8.2" fill="#000"/>
<rect x="167.2" y="1554.8" width="10.4" height="8.2" fill="#000"/>
<rect x="215.0" y="1433.7" width="10.4" height="8.2" fill="#000"/>
<rect x="262.8" y="1290.2" width="10.4" height="8.2" fill="#000"/>
<rect x="358.4" y="1290.2" width="10.4" height="8.2" fill="#000"/>
<rect x="454.0" y="1290.2" width="10.4" height="8.2" fill="#000"/>
<rect x="549.6" y="1290.2" width="10.4" height="8.2" fill="#000"/>
<rect x="645.2" y="1290.2" width="10.4" height="8.2" fill="#000"/>
<path d="M322.0 1644.5 H385.1" stroke="#000" stroke-width="2.2" stroke-dasharray="8 6.5"/>
<path d="M349.0 1648.6 L354.2 1640.4 L359.4 1648.6 Z" fill="none" stroke="#808080" stroke-width="1"/>
<path d="M322.0 1684.7 H385.1" stroke="#000" stroke-width="2.2"/>
<rect x="349.0" y="1680.6" width="10.4" height="8.2" fill="#000"/>
<path d="M322.0 1725.6 H385.1" stroke="#000" stroke-width="2.4" stroke-dasharray="4.2 2.6"/>
<ellipse cx="354.2" cy="1725.6" rx="4.4" ry="4.0" fill="none" stroke="#8a8a8a" stroke-width="1"/>
<text transform="translate(390.25,1652.00) scale(1.3012,1)" font-family="Liberation Sans" font-size="18.5" font-weight="normal" fill="#1e1e1e" stroke="#1e1e1e" stroke-width="0.2">H</text>
<text transform="translate(405.39,1660.90) scale(1.4303,1)" font-family="Liberation Sans" font-size="10.5" font-weight="normal" fill="#1e1e1e" stroke="#1e1e1e" stroke-width="0.2">2</text>
<text transform="translate(413.29,1652.00) scale(1.1560,1)" font-family="Liberation Sans" font-size="18.5" font-weight="normal" fill="#1e1e1e" stroke="#1e1e1e" stroke-width="0.2">SO</text>
<text transform="translate(443.92,1660.90) scale(1.2968,1)" font-family="Liberation Sans" font-size="10.5" font-weight="normal" fill="#1e1e1e" stroke="#1e1e1e" stroke-width="0.2">4</text>
<text transform="translate(457.46,1652.00) scale(1.1211,1)" font-family="Liberation Sans" font-size="18.5" font-weight="normal" fill="#1e1e1e" stroke="#1e1e1e" stroke-width="0.2">concentration= 0.5 M</text>
<text transform="translate(390.65,1692.40) scale(1.2414,1)" font-family="Liberation Sans" font-size="18.5" font-weight="bold" fill="#1e1e1e" stroke="#1e1e1e" stroke-width="0.45">H</text>
<text transform="translate(405.62,1701.60) scale(1.3508,1)" font-family="Liberation Sans" font-size="10.5" font-weight="bold" fill="#1e1e1e" stroke="#1e1e1e" stroke-width="0.45">2</text>
<text transform="translate(413.73,1692.40) scale(1.1333,1)" font-family="Liberation Sans" font-size="18.5" font-weight="bold" fill="#1e1e1e" stroke="#1e1e1e" stroke-width="0.45">SO</text>
<text transform="translate(443.42,1701.60) scale(1.2686,1)" font-family="Liberation Sans" font-size="10.5" font-weight="bold" fill="#1e1e1e" stroke="#1e1e1e" stroke-width="0.45">4</text>
<text transform="translate(457.47,1692.40) scale(1.1076,1)" font-family="Liberation Sans" font-size="18.5" font-weight="bold" fill="#1e1e1e" stroke="#1e1e1e" stroke-width="0.45">concentration= 1 M</text>
<text transform="translate(390.25,1733.10) scale(1.3012,1)" font-family="Liberation Sans" font-size="18.5" font-weight="normal" fill="#1e1e1e" stroke="#1e1e1e" stroke-width="0.2">H</text>
<text transform="translate(405.39,1742.00) scale(1.4303,1)" font-family="Liberation Sans" font-size="10.5" font-weight="normal" fill="#1e1e1e" stroke="#1e1e1e" stroke-width="0.2">2</text>
<text transform="translate(413.29,1733.10) scale(1.1560,1)" font-family="Liberation Sans" font-size="18.5" font-weight="normal" fill="#1e1e1e" stroke="#1e1e1e" stroke-width="0.2">SO</text>
<text transform="translate(443.92,1742.00) scale(1.2968,1)" font-family="Liberation Sans" font-size="10.5" font-weight="normal" fill="#1e1e1e" stroke="#1e1e1e" stroke-width="0.2">4</text>
<text transform="translate(457.46,1733.10) scale(1.1211,1)" font-family="Liberation Sans" font-size="18.5" font-weight="normal" fill="#1e1e1e" stroke="#1e1e1e" stroke-width="0.2">concentration= 1.5 M</text>
</svg></body></html>
